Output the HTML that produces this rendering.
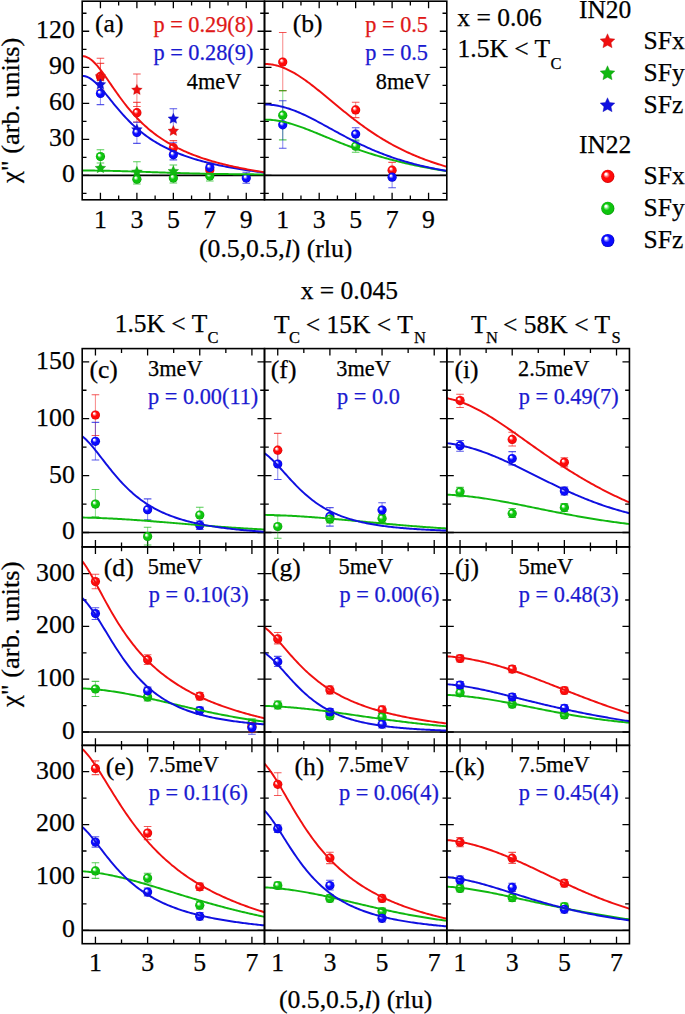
<!DOCTYPE html><html><head><meta charset="utf-8"><style>html,body{margin:0;padding:0;background:#fff;overflow:hidden;}svg{display:block;font-family:"Liberation Serif",serif;}text{stroke-width:0.25px;}</style></head><body>
<svg width="685" height="1014" viewBox="0 0 685 1014">
<defs>
<radialGradient id="gr" cx="0.5" cy="0.5" r="0.5" fx="0.33" fy="0.3"><stop offset="0" stop-color="#ffffff"/><stop offset="0.14" stop-color="#ffffff" stop-opacity="0.95"/><stop offset="0.3" stop-color="#ff8080"/><stop offset="0.5" stop-color="#ff0a0a"/><stop offset="0.85" stop-color="#ff0a0a"/><stop offset="1" stop-color="#c80000"/></radialGradient>
<radialGradient id="gg" cx="0.5" cy="0.5" r="0.5" fx="0.33" fy="0.3"><stop offset="0" stop-color="#ffffff"/><stop offset="0.14" stop-color="#ffffff" stop-opacity="0.95"/><stop offset="0.3" stop-color="#80e880"/><stop offset="0.5" stop-color="#0ec40e"/><stop offset="0.85" stop-color="#0ec40e"/><stop offset="1" stop-color="#009000"/></radialGradient>
<radialGradient id="gb" cx="0.5" cy="0.5" r="0.5" fx="0.33" fy="0.3"><stop offset="0" stop-color="#ffffff"/><stop offset="0.14" stop-color="#ffffff" stop-opacity="0.95"/><stop offset="0.3" stop-color="#8080ff"/><stop offset="0.5" stop-color="#0a0aff"/><stop offset="0.85" stop-color="#0a0aff"/><stop offset="1" stop-color="#0000b8"/></radialGradient>
</defs>
<rect width="685" height="1014" fill="#fff"/>
<clipPath id="ca"><rect x="82.2" y="1.2" width="182.3" height="198.60000000000002"/></clipPath>
<clipPath id="cb"><rect x="264.5" y="1.2" width="182.3" height="198.60000000000002"/></clipPath>
<path d="M100.43,1.2v7 M100.43,199.8v-7 M136.89,1.2v7 M136.89,199.8v-7 M173.35,1.2v7 M173.35,199.8v-7 M209.81,1.2v7 M209.81,199.8v-7 M246.27,1.2v7 M246.27,199.8v-7 M118.66,1.2v4.3 M118.66,199.8v-4.3 M155.12,1.2v4.3 M155.12,199.8v-4.3 M191.58,1.2v4.3 M191.58,199.8v-4.3 M228.04,1.2v4.3 M228.04,199.8v-4.3 M82.2,175.35h7 M264.5,175.35h-7 M82.2,139.33h7 M264.5,139.33h-7 M82.2,103.31h7 M264.5,103.31h-7 M82.2,67.29h7 M264.5,67.29h-7 M82.2,31.27h7 M264.5,31.27h-7 M82.2,193.36h4.3 M264.5,193.36h-4.3 M82.2,157.34h4.3 M264.5,157.34h-4.3 M82.2,121.32h4.3 M264.5,121.32h-4.3 M82.2,85.3h4.3 M264.5,85.3h-4.3 M82.2,49.28h4.3 M264.5,49.28h-4.3 M82.2,13.26h4.3 M264.5,13.26h-4.3" stroke="#000" stroke-width="1.3" fill="none"/>
<line x1="82.2" y1="175.35" x2="264.5" y2="175.35" stroke="#000" stroke-width="1.7"/>
<path d="M282.73,1.2v7 M282.73,199.8v-7 M319.19,1.2v7 M319.19,199.8v-7 M355.65,1.2v7 M355.65,199.8v-7 M392.11,1.2v7 M392.11,199.8v-7 M428.57,1.2v7 M428.57,199.8v-7 M300.96,1.2v4.3 M300.96,199.8v-4.3 M337.42,1.2v4.3 M337.42,199.8v-4.3 M373.88,1.2v4.3 M373.88,199.8v-4.3 M410.34,1.2v4.3 M410.34,199.8v-4.3 M264.5,175.35h7 M446.8,175.35h-7 M264.5,139.33h7 M446.8,139.33h-7 M264.5,103.31h7 M446.8,103.31h-7 M264.5,67.29h7 M446.8,67.29h-7 M264.5,31.27h7 M446.8,31.27h-7 M264.5,193.36h4.3 M446.8,193.36h-4.3 M264.5,157.34h4.3 M446.8,157.34h-4.3 M264.5,121.32h4.3 M446.8,121.32h-4.3 M264.5,85.3h4.3 M446.8,85.3h-4.3 M264.5,49.28h4.3 M446.8,49.28h-4.3 M264.5,13.26h4.3 M446.8,13.26h-4.3" stroke="#000" stroke-width="1.3" fill="none"/>
<line x1="264.5" y1="175.35" x2="446.8" y2="175.35" stroke="#000" stroke-width="1.7"/>
<path d="M100.43,58.3V80" stroke="#f01010" stroke-opacity="0.45" stroke-width="1.1" fill="none"/>
<path d="M96.63,58.3h7.6 M96.63,80h7.6" stroke="#f01010" stroke-opacity="0.7" stroke-width="1.1" fill="none"/>
<path d="M100.43,63.4V90" stroke="#f01010" stroke-opacity="0.45" stroke-width="1.1" fill="none"/>
<path d="M96.63,63.4h7.6 M96.63,90h7.6" stroke="#f01010" stroke-opacity="0.7" stroke-width="1.1" fill="none"/>
<path d="M100.43,84V104.6" stroke="#1010e0" stroke-opacity="0.45" stroke-width="1.1" fill="none"/>
<path d="M96.63,84h7.6 M96.63,104.6h7.6" stroke="#1010e0" stroke-opacity="0.7" stroke-width="1.1" fill="none"/>
<path d="M100.43,149.7V163" stroke="#10b810" stroke-opacity="0.45" stroke-width="1.1" fill="none"/>
<path d="M96.63,149.7h7.6 M96.63,163h7.6" stroke="#10b810" stroke-opacity="0.7" stroke-width="1.1" fill="none"/>
<path d="M136.89,74V106.5" stroke="#f01010" stroke-opacity="0.45" stroke-width="1.1" fill="none"/>
<path d="M133.09,74h7.6 M133.09,106.5h7.6" stroke="#f01010" stroke-opacity="0.7" stroke-width="1.1" fill="none"/>
<path d="M136.89,102.4V122" stroke="#f01010" stroke-opacity="0.45" stroke-width="1.1" fill="none"/>
<path d="M133.09,102.4h7.6 M133.09,122h7.6" stroke="#f01010" stroke-opacity="0.7" stroke-width="1.1" fill="none"/>
<path d="M136.89,122.3V143.4" stroke="#1010e0" stroke-opacity="0.45" stroke-width="1.1" fill="none"/>
<path d="M133.09,122.3h7.6 M133.09,143.4h7.6" stroke="#1010e0" stroke-opacity="0.7" stroke-width="1.1" fill="none"/>
<path d="M136.89,161.7V184" stroke="#10b810" stroke-opacity="0.45" stroke-width="1.1" fill="none"/>
<path d="M133.09,161.7h7.6 M133.09,184h7.6" stroke="#10b810" stroke-opacity="0.7" stroke-width="1.1" fill="none"/>
<path d="M173.35,108.7V131" stroke="#1010e0" stroke-opacity="0.45" stroke-width="1.1" fill="none"/>
<path d="M169.55,108.7h7.6 M169.55,131h7.6" stroke="#1010e0" stroke-opacity="0.7" stroke-width="1.1" fill="none"/>
<path d="M173.35,140.6V152" stroke="#f01010" stroke-opacity="0.45" stroke-width="1.1" fill="none"/>
<path d="M169.55,140.6h7.6 M169.55,152h7.6" stroke="#f01010" stroke-opacity="0.7" stroke-width="1.1" fill="none"/>
<path d="M173.35,142.8V159.9" stroke="#1010e0" stroke-opacity="0.45" stroke-width="1.1" fill="none"/>
<path d="M169.55,142.8h7.6 M169.55,159.9h7.6" stroke="#1010e0" stroke-opacity="0.7" stroke-width="1.1" fill="none"/>
<path d="M173.35,165V183" stroke="#10b810" stroke-opacity="0.45" stroke-width="1.1" fill="none"/>
<path d="M169.55,165h7.6 M169.55,183h7.6" stroke="#10b810" stroke-opacity="0.7" stroke-width="1.1" fill="none"/>
<path d="M209.81,163V181" stroke="#10b810" stroke-opacity="0.45" stroke-width="1.1" fill="none"/>
<path d="M206.01,163h7.6 M206.01,181h7.6" stroke="#10b810" stroke-opacity="0.7" stroke-width="1.1" fill="none"/>
<path d="M209.81,163V176" stroke="#f01010" stroke-opacity="0.45" stroke-width="1.1" fill="none"/>
<path d="M206.01,163h7.6 M206.01,176h7.6" stroke="#f01010" stroke-opacity="0.7" stroke-width="1.1" fill="none"/>
<path d="M246.27,172.3V183.2" stroke="#1010e0" stroke-opacity="0.45" stroke-width="1.1" fill="none"/>
<path d="M242.47,172.3h7.6 M242.47,183.2h7.6" stroke="#1010e0" stroke-opacity="0.7" stroke-width="1.1" fill="none"/>
<circle cx="100.43" cy="156.6" r="4.6" fill="url(#gg)"/>
<polygon points="100.43,162.6 102.01,166.03 105.76,166.47 102.99,169.03 103.72,172.73 100.43,170.89 97.14,172.73 97.87,169.03 95.1,166.47 98.85,166.03" fill="#10b810" stroke="#008000" stroke-width="0.5" stroke-opacity="0.6"/>
<circle cx="100.43" cy="76.4" r="4.6" fill="url(#gr)"/>
<polygon points="100.43,71 102.01,74.43 105.76,74.87 102.99,77.43 103.72,81.13 100.43,79.29 97.14,81.13 97.87,77.43 95.1,74.87 98.85,74.43" fill="#f01010" stroke="#b00000" stroke-width="0.5" stroke-opacity="0.6"/>
<circle cx="100.43" cy="93.5" r="4.6" fill="url(#gb)"/>
<polygon points="100.43,78.9 102.01,82.33 105.76,82.77 102.99,85.33 103.72,89.03 100.43,87.19 97.14,89.03 97.87,85.33 95.1,82.77 98.85,82.33" fill="#1010e0" stroke="#0000a0" stroke-width="0.5" stroke-opacity="0.6"/>
<polygon points="136.89,84.4 138.47,87.83 142.22,88.27 139.45,90.83 140.18,94.53 136.89,92.69 133.6,94.53 134.33,90.83 131.56,88.27 135.31,87.83" fill="#f01010" stroke="#b00000" stroke-width="0.5" stroke-opacity="0.6"/>
<circle cx="136.89" cy="112.7" r="4.6" fill="url(#gr)"/>
<polygon points="136.89,124 138.47,127.43 142.22,127.87 139.45,130.43 140.18,134.13 136.89,132.29 133.6,134.13 134.33,130.43 131.56,127.87 135.31,127.43" fill="#1010e0" stroke="#0000a0" stroke-width="0.5" stroke-opacity="0.6"/>
<circle cx="136.89" cy="132.5" r="4.6" fill="url(#gb)"/>
<circle cx="136.89" cy="179.2" r="4.6" fill="url(#gg)"/>
<polygon points="136.89,166.3 138.47,169.73 142.22,170.17 139.45,172.73 140.18,176.43 136.89,174.59 133.6,176.43 134.33,172.73 131.56,170.17 135.31,169.73" fill="#10b810" stroke="#008000" stroke-width="0.5" stroke-opacity="0.6"/>
<polygon points="173.35,113.2 174.93,116.63 178.68,117.07 175.91,119.63 176.64,123.33 173.35,121.49 170.06,123.33 170.79,119.63 168.02,117.07 171.77,116.63" fill="#1010e0" stroke="#0000a0" stroke-width="0.5" stroke-opacity="0.6"/>
<polygon points="173.35,125.4 174.93,128.83 178.68,129.27 175.91,131.83 176.64,135.53 173.35,133.69 170.06,135.53 170.79,131.83 168.02,129.27 171.77,128.83" fill="#f01010" stroke="#b00000" stroke-width="0.5" stroke-opacity="0.6"/>
<circle cx="173.35" cy="147.7" r="4.6" fill="url(#gr)"/>
<circle cx="173.35" cy="154.7" r="4.6" fill="url(#gb)"/>
<circle cx="173.35" cy="177.9" r="4.6" fill="url(#gg)"/>
<polygon points="173.35,165.7 174.93,169.13 178.68,169.57 175.91,172.13 176.64,175.83 173.35,173.99 170.06,175.83 170.79,172.13 168.02,169.57 171.77,169.13" fill="#10b810" stroke="#008000" stroke-width="0.5" stroke-opacity="0.6"/>
<circle cx="209.81" cy="176" r="4.6" fill="url(#gg)"/>
<circle cx="209.81" cy="170" r="4.6" fill="url(#gr)"/>
<circle cx="209.81" cy="167.5" r="4.6" fill="url(#gb)"/>
<circle cx="246.27" cy="178.1" r="4.6" fill="url(#gb)"/>
<path d="M282.73,32.5V90.6" stroke="#f01010" stroke-opacity="0.45" stroke-width="1.1" fill="none"/>
<path d="M278.93,32.5h7.6 M278.93,90.6h7.6" stroke="#f01010" stroke-opacity="0.7" stroke-width="1.1" fill="none"/>
<path d="M282.73,90.6V139.9" stroke="#10b810" stroke-opacity="0.45" stroke-width="1.1" fill="none"/>
<path d="M278.93,90.6h7.6 M278.93,139.9h7.6" stroke="#10b810" stroke-opacity="0.7" stroke-width="1.1" fill="none"/>
<path d="M282.73,100.7V148.3" stroke="#1010e0" stroke-opacity="0.45" stroke-width="1.1" fill="none"/>
<path d="M278.93,100.7h7.6 M278.93,148.3h7.6" stroke="#1010e0" stroke-opacity="0.7" stroke-width="1.1" fill="none"/>
<path d="M355.65,102.3V117.6" stroke="#f01010" stroke-opacity="0.45" stroke-width="1.1" fill="none"/>
<path d="M351.85,102.3h7.6 M351.85,117.6h7.6" stroke="#f01010" stroke-opacity="0.7" stroke-width="1.1" fill="none"/>
<path d="M355.65,127.8V141" stroke="#1010e0" stroke-opacity="0.45" stroke-width="1.1" fill="none"/>
<path d="M351.85,127.8h7.6 M351.85,141h7.6" stroke="#1010e0" stroke-opacity="0.7" stroke-width="1.1" fill="none"/>
<path d="M355.65,140V152.2" stroke="#10b810" stroke-opacity="0.45" stroke-width="1.1" fill="none"/>
<path d="M351.85,140h7.6 M351.85,152.2h7.6" stroke="#10b810" stroke-opacity="0.7" stroke-width="1.1" fill="none"/>
<path d="M392.11,162.4V177" stroke="#f01010" stroke-opacity="0.45" stroke-width="1.1" fill="none"/>
<path d="M388.31,162.4h7.6 M388.31,177h7.6" stroke="#f01010" stroke-opacity="0.7" stroke-width="1.1" fill="none"/>
<path d="M392.11,170V187.7" stroke="#1010e0" stroke-opacity="0.45" stroke-width="1.1" fill="none"/>
<path d="M388.31,170h7.6 M388.31,187.7h7.6" stroke="#1010e0" stroke-opacity="0.7" stroke-width="1.1" fill="none"/>
<circle cx="282.73" cy="62" r="4.6" fill="url(#gr)"/>
<circle cx="282.73" cy="115.2" r="4.6" fill="url(#gg)"/>
<circle cx="282.73" cy="124.8" r="4.6" fill="url(#gb)"/>
<circle cx="355.65" cy="109.9" r="4.6" fill="url(#gr)"/>
<circle cx="355.65" cy="134.1" r="4.6" fill="url(#gb)"/>
<circle cx="355.65" cy="146.2" r="4.6" fill="url(#gg)"/>
<circle cx="392.11" cy="170.2" r="4.6" fill="url(#gr)"/>
<circle cx="392.11" cy="177.2" r="4.6" fill="url(#gb)"/>
<path d="M82.2,170.52 L83.7,170.52 L85.2,170.52 L86.7,170.53 L88.2,170.54 L89.7,170.54 L91.2,170.56 L92.7,170.57 L94.2,170.58 L95.7,170.6 L97.2,170.62 L98.7,170.64 L100.2,170.66 L101.7,170.68 L103.2,170.71 L104.7,170.73 L106.2,170.76 L107.7,170.79 L109.2,170.82 L110.7,170.86 L112.2,170.89 L113.7,170.93 L115.2,170.96 L116.7,171 L118.2,171.04 L119.7,171.08 L121.2,171.12 L122.7,171.17 L124.2,171.21 L125.7,171.26 L127.2,171.3 L128.7,171.35 L130.2,171.4 L131.7,171.45 L133.2,171.49 L134.7,171.54 L136.2,171.59 L137.7,171.64 L139.2,171.7 L140.7,171.75 L142.2,171.8 L143.7,171.85 L145.2,171.9 L146.7,171.96 L148.2,172.01 L149.7,172.06 L151.2,172.11 L152.7,172.17 L154.2,172.22 L155.7,172.27 L157.2,172.32 L158.7,172.37 L160.2,172.43 L161.7,172.48 L163.2,172.53 L164.7,172.58 L166.2,172.63 L167.7,172.68 L169.2,172.73 L170.7,172.78 L172.2,172.82 L173.7,172.87 L175.2,172.92 L176.7,172.96 L178.2,173.01 L179.7,173.06 L181.2,173.1 L182.7,173.14 L184.2,173.19 L185.7,173.23 L187.2,173.27 L188.7,173.31 L190.2,173.35 L191.7,173.39 L193.2,173.43 L194.7,173.46 L196.2,173.5 L197.7,173.53 L199.2,173.57 L200.7,173.6 L202.2,173.64 L203.7,173.67 L205.2,173.7 L206.7,173.73 L208.2,173.76 L209.7,173.79 L211.2,173.82 L212.7,173.85 L214.2,173.87 L215.7,173.9 L217.2,173.93 L218.7,173.95 L220.2,173.97 L221.7,174 L223.2,174.02 L224.7,174.04 L226.2,174.06 L227.7,174.08 L229.2,174.1 L230.7,174.12 L232.2,174.14 L233.7,174.16 L235.2,174.18 L236.7,174.19 L238.2,174.21 L239.7,174.23 L241.2,174.24 L242.7,174.25 L244.2,174.27 L245.7,174.28 L247.2,174.3 L248.7,174.31 L250.2,174.32 L251.7,174.33 L253.2,174.34 L254.7,174.35 L256.2,174.36 L257.7,174.37 L259.2,174.38 L260.7,174.39 L262.2,174.4 L263.7,174.41 L264.5,174.41" stroke="#10b810" stroke-width="1.95" fill="none" stroke-linejoin="round" clip-path="url(#ca)"/>
<path d="M82.2,75.88 L83.7,75.97 L85.2,76.25 L86.7,76.7 L88.2,77.33 L89.7,78.13 L91.2,79.09 L92.7,80.19 L94.2,81.42 L95.7,82.77 L97.2,84.24 L98.7,85.79 L100.2,87.42 L101.7,89.12 L103.2,90.88 L104.7,92.67 L106.2,94.5 L107.7,96.35 L109.2,98.21 L110.7,100.07 L112.2,101.92 L113.7,103.77 L115.2,105.6 L116.7,107.41 L118.2,109.19 L119.7,110.94 L121.2,112.66 L122.7,114.35 L124.2,116 L125.7,117.61 L127.2,119.19 L128.7,120.72 L130.2,122.22 L131.7,123.68 L133.2,125.1 L134.7,126.49 L136.2,127.83 L137.7,129.14 L139.2,130.41 L140.7,131.64 L142.2,132.84 L143.7,134 L145.2,135.13 L146.7,136.23 L148.2,137.3 L149.7,138.33 L151.2,139.34 L152.7,140.31 L154.2,141.26 L155.7,142.18 L157.2,143.08 L158.7,143.95 L160.2,144.79 L161.7,145.62 L163.2,146.41 L164.7,147.19 L166.2,147.95 L167.7,148.68 L169.2,149.39 L170.7,150.09 L172.2,150.77 L173.7,151.42 L175.2,152.07 L176.7,152.69 L178.2,153.3 L179.7,153.89 L181.2,154.47 L182.7,155.03 L184.2,155.58 L185.7,156.11 L187.2,156.64 L188.7,157.14 L190.2,157.64 L191.7,158.12 L193.2,158.6 L194.7,159.06 L196.2,159.51 L197.7,159.95 L199.2,160.38 L200.7,160.8 L202.2,161.21 L203.7,161.61 L205.2,162.01 L206.7,162.39 L208.2,162.76 L209.7,163.13 L211.2,163.49 L212.7,163.84 L214.2,164.19 L215.7,164.52 L217.2,164.85 L218.7,165.18 L220.2,165.49 L221.7,165.8 L223.2,166.11 L224.7,166.4 L226.2,166.69 L227.7,166.98 L229.2,167.26 L230.7,167.54 L232.2,167.8 L233.7,168.07 L235.2,168.33 L236.7,168.58 L238.2,168.83 L239.7,169.08 L241.2,169.32 L242.7,169.55 L244.2,169.79 L245.7,170.01 L247.2,170.24 L248.7,170.46 L250.2,170.67 L251.7,170.89 L253.2,171.09 L254.7,171.3 L256.2,171.5 L257.7,171.7 L259.2,171.89 L260.7,172.08 L262.2,172.27 L263.7,172.46 L264.5,172.55" stroke="#1010e0" stroke-width="1.95" fill="none" stroke-linejoin="round" clip-path="url(#ca)"/>
<path d="M82.2,56.12 L83.7,56.22 L85.2,56.54 L86.7,57.06 L88.2,57.78 L89.7,58.7 L91.2,59.79 L92.7,61.06 L94.2,62.48 L95.7,64.04 L97.2,65.72 L98.7,67.52 L100.2,69.41 L101.7,71.38 L103.2,73.42 L104.7,75.51 L106.2,77.64 L107.7,79.8 L109.2,81.97 L110.7,84.15 L112.2,86.33 L113.7,88.51 L115.2,90.66 L116.7,92.8 L118.2,94.91 L119.7,96.98 L121.2,99.03 L122.7,101.03 L124.2,103 L125.7,104.92 L127.2,106.81 L128.7,108.65 L130.2,110.44 L131.7,112.2 L133.2,113.9 L134.7,115.57 L136.2,117.19 L137.7,118.76 L139.2,120.29 L140.7,121.79 L142.2,123.24 L143.7,124.65 L145.2,126.02 L146.7,127.35 L148.2,128.65 L149.7,129.91 L151.2,131.13 L152.7,132.32 L154.2,133.48 L155.7,134.61 L157.2,135.7 L158.7,136.76 L160.2,137.8 L161.7,138.81 L163.2,139.78 L164.7,140.74 L166.2,141.66 L167.7,142.57 L169.2,143.44 L170.7,144.3 L172.2,145.13 L173.7,145.94 L175.2,146.73 L176.7,147.5 L178.2,148.25 L179.7,148.98 L181.2,149.7 L182.7,150.39 L184.2,151.07 L185.7,151.73 L187.2,152.38 L188.7,153.01 L190.2,153.62 L191.7,154.22 L193.2,154.81 L194.7,155.38 L196.2,155.94 L197.7,156.49 L199.2,157.02 L200.7,157.55 L202.2,158.06 L203.7,158.56 L205.2,159.04 L206.7,159.52 L208.2,159.99 L209.7,160.45 L211.2,160.9 L212.7,161.33 L214.2,161.76 L215.7,162.18 L217.2,162.59 L218.7,163 L220.2,163.39 L221.7,163.78 L223.2,164.16 L224.7,164.53 L226.2,164.9 L227.7,165.25 L229.2,165.6 L230.7,165.95 L232.2,166.28 L233.7,166.62 L235.2,166.94 L236.7,167.26 L238.2,167.57 L239.7,167.88 L241.2,168.18 L242.7,168.48 L244.2,168.77 L245.7,169.05 L247.2,169.34 L248.7,169.61 L250.2,169.88 L251.7,170.15 L253.2,170.41 L254.7,170.67 L256.2,170.92 L257.7,171.17 L259.2,171.41 L260.7,171.66 L262.2,171.89 L263.7,172.13 L264.5,172.25" stroke="#f01010" stroke-width="1.95" fill="none" stroke-linejoin="round" clip-path="url(#ca)"/>
<path d="M264.5,119.61 L266,119.62 L267.5,119.66 L269,119.73 L270.5,119.83 L272,119.96 L273.5,120.12 L275,120.3 L276.5,120.51 L278,120.74 L279.5,121 L281,121.28 L282.5,121.59 L284,121.92 L285.5,122.28 L287,122.66 L288.5,123.05 L290,123.47 L291.5,123.9 L293,124.36 L294.5,124.83 L296,125.31 L297.5,125.82 L299,126.33 L300.5,126.86 L302,127.4 L303.5,127.95 L305,128.51 L306.5,129.09 L308,129.67 L309.5,130.25 L311,130.85 L312.5,131.45 L314,132.05 L315.5,132.66 L317,133.27 L318.5,133.89 L320,134.51 L321.5,135.13 L323,135.75 L324.5,136.37 L326,136.99 L327.5,137.61 L329,138.22 L330.5,138.84 L332,139.45 L333.5,140.07 L335,140.67 L336.5,141.28 L338,141.88 L339.5,142.48 L341,143.07 L342.5,143.66 L344,144.24 L345.5,144.82 L347,145.4 L348.5,145.97 L350,146.53 L351.5,147.09 L353,147.64 L354.5,148.19 L356,148.73 L357.5,149.26 L359,149.79 L360.5,150.32 L362,150.83 L363.5,151.34 L365,151.85 L366.5,152.34 L368,152.84 L369.5,153.32 L371,153.8 L372.5,154.27 L374,154.74 L375.5,155.2 L377,155.66 L378.5,156.1 L380,156.55 L381.5,156.98 L383,157.41 L384.5,157.84 L386,158.26 L387.5,158.67 L389,159.08 L390.5,159.48 L392,159.88 L393.5,160.27 L395,160.65 L396.5,161.03 L398,161.41 L399.5,161.77 L401,162.14 L402.5,162.5 L404,162.85 L405.5,163.2 L407,163.54 L408.5,163.88 L410,164.22 L411.5,164.55 L413,164.87 L414.5,165.19 L416,165.51 L417.5,165.82 L419,166.12 L420.5,166.43 L422,166.72 L423.5,167.02 L425,167.31 L426.5,167.59 L428,167.88 L429.5,168.15 L431,168.43 L432.5,168.7 L434,168.96 L435.5,169.23 L437,169.49 L438.5,169.74 L440,169.99 L441.5,170.24 L443,170.49 L444.5,170.73 L446,170.97 L446.8,171.1" stroke="#10b810" stroke-width="1.95" fill="none" stroke-linejoin="round" clip-path="url(#cb)"/>
<path d="M264.5,104.5 L266,104.52 L267.5,104.57 L269,104.65 L270.5,104.77 L272,104.91 L273.5,105.09 L275,105.3 L276.5,105.54 L278,105.82 L279.5,106.12 L281,106.45 L282.5,106.81 L284,107.2 L285.5,107.62 L287,108.07 L288.5,108.54 L290,109.03 L291.5,109.56 L293,110.1 L294.5,110.67 L296,111.26 L297.5,111.87 L299,112.5 L300.5,113.15 L302,113.82 L303.5,114.5 L305,115.2 L306.5,115.92 L308,116.65 L309.5,117.39 L311,118.15 L312.5,118.91 L314,119.69 L315.5,120.47 L317,121.26 L318.5,122.06 L320,122.87 L321.5,123.68 L323,124.49 L324.5,125.31 L326,126.13 L327.5,126.96 L329,127.78 L330.5,128.61 L332,129.43 L333.5,130.26 L335,131.08 L336.5,131.9 L338,132.72 L339.5,133.53 L341,134.34 L342.5,135.15 L344,135.95 L345.5,136.74 L347,137.53 L348.5,138.32 L350,139.09 L351.5,139.86 L353,140.63 L354.5,141.38 L356,142.13 L357.5,142.87 L359,143.6 L360.5,144.32 L362,145.03 L363.5,145.74 L365,146.43 L366.5,147.12 L368,147.79 L369.5,148.46 L371,149.12 L372.5,149.77 L374,150.41 L375.5,151.04 L377,151.65 L378.5,152.26 L380,152.86 L381.5,153.45 L383,154.03 L384.5,154.6 L386,155.17 L387.5,155.72 L389,156.26 L390.5,156.79 L392,157.31 L393.5,157.83 L395,158.33 L396.5,158.83 L398,159.32 L399.5,159.79 L401,160.26 L402.5,160.72 L404,161.17 L405.5,161.62 L407,162.05 L408.5,162.48 L410,162.89 L411.5,163.3 L413,163.71 L414.5,164.1 L416,164.49 L417.5,164.87 L419,165.24 L420.5,165.6 L422,165.96 L423.5,166.31 L425,166.65 L426.5,166.99 L428,167.31 L429.5,167.64 L431,167.95 L432.5,168.26 L434,168.57 L435.5,168.86 L437,169.15 L438.5,169.44 L440,169.72 L441.5,169.99 L443,170.26 L444.5,170.52 L446,170.78 L446.8,170.92" stroke="#1010e0" stroke-width="1.95" fill="none" stroke-linejoin="round" clip-path="url(#cb)"/>
<path d="M264.5,63.95 L266,63.98 L267.5,64.05 L269,64.17 L270.5,64.34 L272,64.57 L273.5,64.83 L275,65.15 L276.5,65.51 L278,65.92 L279.5,66.38 L281,66.88 L282.5,67.42 L284,68.01 L285.5,68.64 L287,69.31 L288.5,70.01 L290,70.76 L291.5,71.55 L293,72.36 L294.5,73.22 L296,74.11 L297.5,75.02 L299,75.97 L300.5,76.95 L302,77.95 L303.5,78.98 L305,80.04 L306.5,81.11 L308,82.21 L309.5,83.33 L311,84.47 L312.5,85.62 L314,86.79 L315.5,87.97 L317,89.16 L318.5,90.37 L320,91.58 L321.5,92.81 L323,94.04 L324.5,95.27 L326,96.52 L327.5,97.76 L329,99.01 L330.5,100.26 L332,101.51 L333.5,102.75 L335,104 L336.5,105.25 L338,106.49 L339.5,107.72 L341,108.95 L342.5,110.18 L344,111.4 L345.5,112.61 L347,113.82 L348.5,115.01 L350,116.2 L351.5,117.37 L353,118.54 L354.5,119.7 L356,120.84 L357.5,121.98 L359,123.1 L360.5,124.21 L362,125.31 L363.5,126.4 L365,127.47 L366.5,128.53 L368,129.58 L369.5,130.61 L371,131.63 L372.5,132.64 L374,133.63 L375.5,134.61 L377,135.58 L378.5,136.53 L380,137.47 L381.5,138.39 L383,139.3 L384.5,140.2 L386,141.09 L387.5,141.96 L389,142.81 L390.5,143.65 L392,144.48 L393.5,145.3 L395,146.1 L396.5,146.89 L398,147.67 L399.5,148.43 L401,149.18 L402.5,149.92 L404,150.64 L405.5,151.36 L407,152.06 L408.5,152.75 L410,153.42 L411.5,154.09 L413,154.74 L414.5,155.38 L416,156.01 L417.5,156.63 L419,157.24 L420.5,157.84 L422,158.42 L423.5,159 L425,159.57 L426.5,160.12 L428,160.67 L429.5,161.2 L431,161.73 L432.5,162.25 L434,162.75 L435.5,163.25 L437,163.74 L438.5,164.22 L440,164.69 L441.5,165.16 L443,165.61 L444.5,166.06 L446,166.49 L446.8,166.73" stroke="#f01010" stroke-width="1.95" fill="none" stroke-linejoin="round" clip-path="url(#cb)"/>
<rect x="82.2" y="1.2" width="182.3" height="198.6" fill="none" stroke="#000" stroke-width="1.6"/>
<rect x="264.5" y="1.2" width="182.3" height="198.6" fill="none" stroke="#000" stroke-width="1.6"/>
<text x="95.05" y="32.2" font-size="25.6" text-anchor="start" fill="#000" stroke="#000">(a)</text>
<text x="153.47" y="32.4" font-size="22.3" text-anchor="start" fill="#e01818" stroke="#e01818">p = 0.29(8)</text>
<text x="153.47" y="59.7" font-size="22.3" text-anchor="start" fill="#1a1ad0" stroke="#1a1ad0">p = 0.28(9)</text>
<text x="186.75" y="89.4" font-size="22.3" text-anchor="start" fill="#000" stroke="#000">4meV</text>
<text x="292.65" y="32.2" font-size="25.6" text-anchor="start" fill="#000" stroke="#000">(b)</text>
<text x="365.27" y="32.3" font-size="22.3" text-anchor="start" fill="#e01818" stroke="#e01818">p = 0.5</text>
<text x="365.27" y="60" font-size="22.3" text-anchor="start" fill="#1a1ad0" stroke="#1a1ad0">p = 0.5</text>
<text x="375.81" y="89.2" font-size="22.3" text-anchor="start" fill="#000" stroke="#000">8meV</text>
<text x="100.43" y="227.6" font-size="25.8" text-anchor="middle" fill="#000" stroke="#000">1</text>
<text x="136.89" y="227.6" font-size="25.8" text-anchor="middle" fill="#000" stroke="#000">3</text>
<text x="173.35" y="227.6" font-size="25.8" text-anchor="middle" fill="#000" stroke="#000">5</text>
<text x="209.81" y="227.6" font-size="25.8" text-anchor="middle" fill="#000" stroke="#000">7</text>
<text x="246.27" y="227.6" font-size="25.8" text-anchor="middle" fill="#000" stroke="#000">9</text>
<text x="282.73" y="227.6" font-size="25.8" text-anchor="middle" fill="#000" stroke="#000">1</text>
<text x="319.19" y="227.6" font-size="25.8" text-anchor="middle" fill="#000" stroke="#000">3</text>
<text x="355.65" y="227.6" font-size="25.8" text-anchor="middle" fill="#000" stroke="#000">5</text>
<text x="392.11" y="227.6" font-size="25.8" text-anchor="middle" fill="#000" stroke="#000">7</text>
<text x="428.57" y="227.6" font-size="25.8" text-anchor="middle" fill="#000" stroke="#000">9</text>
<text x="74.8" y="182.25" font-size="25.8" text-anchor="end" fill="#000" stroke="#000">0</text>
<text x="74.8" y="146.23" font-size="25.8" text-anchor="end" fill="#000" stroke="#000">30</text>
<text x="74.8" y="110.21" font-size="25.8" text-anchor="end" fill="#000" stroke="#000">60</text>
<text x="74.8" y="74.19" font-size="25.8" text-anchor="end" fill="#000" stroke="#000">90</text>
<text x="74.8" y="38.17" font-size="25.8" text-anchor="end" fill="#000" stroke="#000">120</text>
<text x="199.05" y="256.9" font-size="25.66" stroke="#000">(0.5,0.5,<tspan font-style="italic">l</tspan>) (rlu)</text>
<text transform="translate(19.25,110.3) rotate(-90) scale(1,0.94)" font-size="26.5" text-anchor="middle" stroke="#000">χ" (arb. units)</text>
<text x="457.35" y="25.8" font-size="25.5" text-anchor="start" fill="#000" stroke="#000">x = 0.06</text>
<text x="457.6" y="57.2" font-size="25.5" text-anchor="start" fill="#000" stroke="#000">1.5K &lt; T</text>
<text x="550.44" y="68.6" font-size="16.5" text-anchor="start" fill="#000" stroke="#000">C</text>
<text x="578.91" y="17.6" font-size="25.5" text-anchor="start" fill="#000" stroke="#000">IN20</text>
<text x="578.91" y="152.5" font-size="25.5" text-anchor="start" fill="#000" stroke="#000">IN22</text>
<polygon points="607.5,33.7 609.7,38.47 614.92,39.09 611.06,42.66 612.08,47.81 607.5,45.24 602.92,47.81 603.94,42.66 600.08,39.09 605.3,38.47" fill="#f01010" stroke="#b00000" stroke-width="0.5" stroke-opacity="0.6"/>
<circle cx="607.8" cy="176.3" r="6.6" fill="url(#gr)"/>
<text x="643.54" y="49.3" font-size="25.5" text-anchor="start" fill="#000" stroke="#000">SFx</text>
<text x="643.54" y="183.9" font-size="25.5" text-anchor="start" fill="#000" stroke="#000">SFx</text>
<polygon points="607.5,65.7 609.7,70.47 614.92,71.09 611.06,74.66 612.08,79.81 607.5,77.24 602.92,79.81 603.94,74.66 600.08,71.09 605.3,70.47" fill="#10b810" stroke="#008000" stroke-width="0.5" stroke-opacity="0.6"/>
<circle cx="607.8" cy="208.4" r="6.6" fill="url(#gg)"/>
<text x="643.54" y="81.2" font-size="25.5" text-anchor="start" fill="#000" stroke="#000">SFy</text>
<text x="643.54" y="215.8" font-size="25.5" text-anchor="start" fill="#000" stroke="#000">SFy</text>
<polygon points="607.5,97.7 609.7,102.47 614.92,103.09 611.06,106.66 612.08,111.81 607.5,109.24 602.92,111.81 603.94,106.66 600.08,103.09 605.3,102.47" fill="#1010e0" stroke="#0000a0" stroke-width="0.5" stroke-opacity="0.6"/>
<circle cx="607.8" cy="240.5" r="6.6" fill="url(#gb)"/>
<text x="643.54" y="113.1" font-size="25.5" text-anchor="start" fill="#000" stroke="#000">SFz</text>
<text x="643.54" y="247.7" font-size="25.5" text-anchor="start" fill="#000" stroke="#000">SFz</text>
<clipPath id="c00"><rect x="82.2" y="348.6" width="182.3" height="198.3"/></clipPath>
<clipPath id="c01"><rect x="82.2" y="546.9" width="182.3" height="198.45"/></clipPath>
<clipPath id="c02"><rect x="82.2" y="745.35" width="182.3" height="198.35"/></clipPath>
<clipPath id="c10"><rect x="264.5" y="348.6" width="182.3" height="198.3"/></clipPath>
<clipPath id="c11"><rect x="264.5" y="546.9" width="182.3" height="198.45"/></clipPath>
<clipPath id="c12"><rect x="264.5" y="745.35" width="182.3" height="198.35"/></clipPath>
<clipPath id="c20"><rect x="446.8" y="348.6" width="182.65" height="198.3"/></clipPath>
<clipPath id="c21"><rect x="446.8" y="546.9" width="182.65" height="198.45"/></clipPath>
<clipPath id="c22"><rect x="446.8" y="745.35" width="182.65" height="198.35"/></clipPath>
<path d="M95.44,348.6v7 M95.44,546.9v-7 M147.6,348.6v7 M147.6,546.9v-7 M199.76,348.6v7 M199.76,546.9v-7 M251.92,348.6v7 M251.92,546.9v-7 M121.52,348.6v4.3 M121.52,546.9v-4.3 M173.68,348.6v4.3 M173.68,546.9v-4.3 M225.84,348.6v4.3 M225.84,546.9v-4.3 M82.2,532.5h7 M264.5,532.5h-7 M82.2,475.6h7 M264.5,475.6h-7 M82.2,418.7h7 M264.5,418.7h-7 M82.2,361.8h7 M264.5,361.8h-7 M82.2,504.05h4.3 M264.5,504.05h-4.3 M82.2,447.15h4.3 M264.5,447.15h-4.3 M82.2,390.25h4.3 M264.5,390.25h-4.3" stroke="#000" stroke-width="1.3" fill="none"/>
<line x1="82.2" y1="532.5" x2="264.5" y2="532.5" stroke="#000" stroke-width="1.7"/>
<path d="M95.44,546.9v7 M95.44,745.35v-7 M147.6,546.9v7 M147.6,745.35v-7 M199.76,546.9v7 M199.76,745.35v-7 M251.92,546.9v7 M251.92,745.35v-7 M121.52,546.9v4.3 M121.52,745.35v-4.3 M173.68,546.9v4.3 M173.68,745.35v-4.3 M225.84,546.9v4.3 M225.84,745.35v-4.3 M82.2,732h7 M264.5,732h-7 M82.2,679.2h7 M264.5,679.2h-7 M82.2,626.4h7 M264.5,626.4h-7 M82.2,573.6h7 M264.5,573.6h-7 M82.2,705.6h4.3 M264.5,705.6h-4.3 M82.2,652.8h4.3 M264.5,652.8h-4.3 M82.2,600h4.3 M264.5,600h-4.3" stroke="#000" stroke-width="1.3" fill="none"/>
<line x1="82.2" y1="732" x2="264.5" y2="732" stroke="#000" stroke-width="1.7"/>
<path d="M95.44,745.35v7 M95.44,943.7v-7 M147.6,745.35v7 M147.6,943.7v-7 M199.76,745.35v7 M199.76,943.7v-7 M251.92,745.35v7 M251.92,943.7v-7 M121.52,745.35v4.3 M121.52,943.7v-4.3 M173.68,745.35v4.3 M173.68,943.7v-4.3 M225.84,745.35v4.3 M225.84,943.7v-4.3 M82.2,930.35h7 M264.5,930.35h-7 M82.2,877.45h7 M264.5,877.45h-7 M82.2,824.55h7 M264.5,824.55h-7 M82.2,771.65h7 M264.5,771.65h-7 M82.2,903.9h4.3 M264.5,903.9h-4.3 M82.2,851h4.3 M264.5,851h-4.3 M82.2,798.1h4.3 M264.5,798.1h-4.3" stroke="#000" stroke-width="1.3" fill="none"/>
<line x1="82.2" y1="930.35" x2="264.5" y2="930.35" stroke="#000" stroke-width="1.7"/>
<path d="M277.74,348.6v7 M277.74,546.9v-7 M329.9,348.6v7 M329.9,546.9v-7 M382.06,348.6v7 M382.06,546.9v-7 M434.22,348.6v7 M434.22,546.9v-7 M303.82,348.6v4.3 M303.82,546.9v-4.3 M355.98,348.6v4.3 M355.98,546.9v-4.3 M408.14,348.6v4.3 M408.14,546.9v-4.3 M264.5,532.5h7 M446.8,532.5h-7 M264.5,475.6h7 M446.8,475.6h-7 M264.5,418.7h7 M446.8,418.7h-7 M264.5,361.8h7 M446.8,361.8h-7 M264.5,504.05h4.3 M446.8,504.05h-4.3 M264.5,447.15h4.3 M446.8,447.15h-4.3 M264.5,390.25h4.3 M446.8,390.25h-4.3" stroke="#000" stroke-width="1.3" fill="none"/>
<line x1="264.5" y1="532.5" x2="446.8" y2="532.5" stroke="#000" stroke-width="1.7"/>
<path d="M277.74,546.9v7 M277.74,745.35v-7 M329.9,546.9v7 M329.9,745.35v-7 M382.06,546.9v7 M382.06,745.35v-7 M434.22,546.9v7 M434.22,745.35v-7 M303.82,546.9v4.3 M303.82,745.35v-4.3 M355.98,546.9v4.3 M355.98,745.35v-4.3 M408.14,546.9v4.3 M408.14,745.35v-4.3 M264.5,732h7 M446.8,732h-7 M264.5,679.2h7 M446.8,679.2h-7 M264.5,626.4h7 M446.8,626.4h-7 M264.5,573.6h7 M446.8,573.6h-7 M264.5,705.6h4.3 M446.8,705.6h-4.3 M264.5,652.8h4.3 M446.8,652.8h-4.3 M264.5,600h4.3 M446.8,600h-4.3" stroke="#000" stroke-width="1.3" fill="none"/>
<line x1="264.5" y1="732" x2="446.8" y2="732" stroke="#000" stroke-width="1.7"/>
<path d="M277.74,745.35v7 M277.74,943.7v-7 M329.9,745.35v7 M329.9,943.7v-7 M382.06,745.35v7 M382.06,943.7v-7 M434.22,745.35v7 M434.22,943.7v-7 M303.82,745.35v4.3 M303.82,943.7v-4.3 M355.98,745.35v4.3 M355.98,943.7v-4.3 M408.14,745.35v4.3 M408.14,943.7v-4.3 M264.5,930.35h7 M446.8,930.35h-7 M264.5,877.45h7 M446.8,877.45h-7 M264.5,824.55h7 M446.8,824.55h-7 M264.5,771.65h7 M446.8,771.65h-7 M264.5,903.9h4.3 M446.8,903.9h-4.3 M264.5,851h4.3 M446.8,851h-4.3 M264.5,798.1h4.3 M446.8,798.1h-4.3" stroke="#000" stroke-width="1.3" fill="none"/>
<line x1="264.5" y1="930.35" x2="446.8" y2="930.35" stroke="#000" stroke-width="1.7"/>
<path d="M460.04,348.6v7 M460.04,546.9v-7 M512.2,348.6v7 M512.2,546.9v-7 M564.36,348.6v7 M564.36,546.9v-7 M616.52,348.6v7 M616.52,546.9v-7 M486.12,348.6v4.3 M486.12,546.9v-4.3 M538.28,348.6v4.3 M538.28,546.9v-4.3 M590.44,348.6v4.3 M590.44,546.9v-4.3 M446.8,532.5h7 M629.45,532.5h-7 M446.8,475.6h7 M629.45,475.6h-7 M446.8,418.7h7 M629.45,418.7h-7 M446.8,361.8h7 M629.45,361.8h-7 M446.8,504.05h4.3 M629.45,504.05h-4.3 M446.8,447.15h4.3 M629.45,447.15h-4.3 M446.8,390.25h4.3 M629.45,390.25h-4.3" stroke="#000" stroke-width="1.3" fill="none"/>
<line x1="446.8" y1="532.5" x2="629.45" y2="532.5" stroke="#000" stroke-width="1.7"/>
<path d="M460.04,546.9v7 M460.04,745.35v-7 M512.2,546.9v7 M512.2,745.35v-7 M564.36,546.9v7 M564.36,745.35v-7 M616.52,546.9v7 M616.52,745.35v-7 M486.12,546.9v4.3 M486.12,745.35v-4.3 M538.28,546.9v4.3 M538.28,745.35v-4.3 M590.44,546.9v4.3 M590.44,745.35v-4.3 M446.8,732h7 M629.45,732h-7 M446.8,679.2h7 M629.45,679.2h-7 M446.8,626.4h7 M629.45,626.4h-7 M446.8,573.6h7 M629.45,573.6h-7 M446.8,705.6h4.3 M629.45,705.6h-4.3 M446.8,652.8h4.3 M629.45,652.8h-4.3 M446.8,600h4.3 M629.45,600h-4.3" stroke="#000" stroke-width="1.3" fill="none"/>
<line x1="446.8" y1="732" x2="629.45" y2="732" stroke="#000" stroke-width="1.7"/>
<path d="M460.04,745.35v7 M460.04,943.7v-7 M512.2,745.35v7 M512.2,943.7v-7 M564.36,745.35v7 M564.36,943.7v-7 M616.52,745.35v7 M616.52,943.7v-7 M486.12,745.35v4.3 M486.12,943.7v-4.3 M538.28,745.35v4.3 M538.28,943.7v-4.3 M590.44,745.35v4.3 M590.44,943.7v-4.3 M446.8,930.35h7 M629.45,930.35h-7 M446.8,877.45h7 M629.45,877.45h-7 M446.8,824.55h7 M629.45,824.55h-7 M446.8,771.65h7 M629.45,771.65h-7 M446.8,903.9h4.3 M629.45,903.9h-4.3 M446.8,851h4.3 M629.45,851h-4.3 M446.8,798.1h4.3 M629.45,798.1h-4.3" stroke="#000" stroke-width="1.3" fill="none"/>
<line x1="446.8" y1="930.35" x2="629.45" y2="930.35" stroke="#000" stroke-width="1.7"/>
<path d="M95.44,394.8V435.5" stroke="#f01010" stroke-opacity="0.45" stroke-width="1.1" fill="none"/>
<path d="M91.64,394.8h7.6 M91.64,435.5h7.6" stroke="#f01010" stroke-opacity="0.7" stroke-width="1.1" fill="none"/>
<path d="M95.44,422.4V460" stroke="#1010e0" stroke-opacity="0.45" stroke-width="1.1" fill="none"/>
<path d="M91.64,422.4h7.6 M91.64,460h7.6" stroke="#1010e0" stroke-opacity="0.7" stroke-width="1.1" fill="none"/>
<path d="M95.44,489.5V516.8" stroke="#10b810" stroke-opacity="0.45" stroke-width="1.1" fill="none"/>
<path d="M91.64,489.5h7.6 M91.64,516.8h7.6" stroke="#10b810" stroke-opacity="0.7" stroke-width="1.1" fill="none"/>
<path d="M147.6,498.9V519.9" stroke="#1010e0" stroke-opacity="0.45" stroke-width="1.1" fill="none"/>
<path d="M143.8,498.9h7.6 M143.8,519.9h7.6" stroke="#1010e0" stroke-opacity="0.7" stroke-width="1.1" fill="none"/>
<path d="M147.6,527.3V545" stroke="#10b810" stroke-opacity="0.45" stroke-width="1.1" fill="none"/>
<path d="M143.8,527.3h7.6 M143.8,545h7.6" stroke="#10b810" stroke-opacity="0.7" stroke-width="1.1" fill="none"/>
<path d="M199.76,507.3V522.5" stroke="#10b810" stroke-opacity="0.45" stroke-width="1.1" fill="none"/>
<path d="M195.96,507.3h7.6 M195.96,522.5h7.6" stroke="#10b810" stroke-opacity="0.7" stroke-width="1.1" fill="none"/>
<path d="M199.76,521V529.5" stroke="#1010e0" stroke-opacity="0.45" stroke-width="1.1" fill="none"/>
<path d="M195.96,521h7.6 M195.96,529.5h7.6" stroke="#1010e0" stroke-opacity="0.7" stroke-width="1.1" fill="none"/>
<circle cx="95.44" cy="415" r="4.6" fill="url(#gr)"/>
<circle cx="95.44" cy="441.3" r="4.6" fill="url(#gb)"/>
<circle cx="95.44" cy="504.1" r="4.6" fill="url(#gg)"/>
<circle cx="147.6" cy="509.7" r="4.6" fill="url(#gb)"/>
<circle cx="147.6" cy="536.5" r="4.6" fill="url(#gg)"/>
<circle cx="199.76" cy="515" r="4.6" fill="url(#gg)"/>
<circle cx="199.76" cy="525.2" r="4.6" fill="url(#gb)"/>
<path d="M82.2,517.57 L83.7,517.59 L85.2,517.62 L86.7,517.65 L88.2,517.69 L89.7,517.72 L91.2,517.76 L92.7,517.81 L94.2,517.85 L95.7,517.9 L97.2,517.95 L98.7,518 L100.2,518.06 L101.7,518.12 L103.2,518.18 L104.7,518.24 L106.2,518.31 L107.7,518.37 L109.2,518.44 L110.7,518.52 L112.2,518.59 L113.7,518.67 L115.2,518.75 L116.7,518.83 L118.2,518.91 L119.7,519 L121.2,519.09 L122.7,519.18 L124.2,519.27 L125.7,519.36 L127.2,519.46 L128.7,519.55 L130.2,519.65 L131.7,519.75 L133.2,519.86 L134.7,519.96 L136.2,520.06 L137.7,520.17 L139.2,520.28 L140.7,520.39 L142.2,520.5 L143.7,520.61 L145.2,520.72 L146.7,520.84 L148.2,520.95 L149.7,521.07 L151.2,521.19 L152.7,521.3 L154.2,521.42 L155.7,521.54 L157.2,521.66 L158.7,521.79 L160.2,521.91 L161.7,522.03 L163.2,522.15 L164.7,522.28 L166.2,522.4 L167.7,522.52 L169.2,522.65 L170.7,522.77 L172.2,522.9 L173.7,523.02 L175.2,523.15 L176.7,523.27 L178.2,523.4 L179.7,523.53 L181.2,523.65 L182.7,523.78 L184.2,523.9 L185.7,524.03 L187.2,524.15 L188.7,524.27 L190.2,524.4 L191.7,524.52 L193.2,524.65 L194.7,524.77 L196.2,524.89 L197.7,525.01 L199.2,525.13 L200.7,525.25 L202.2,525.37 L203.7,525.49 L205.2,525.61 L206.7,525.73 L208.2,525.85 L209.7,525.96 L211.2,526.08 L212.7,526.19 L214.2,526.31 L215.7,526.42 L217.2,526.53 L218.7,526.64 L220.2,526.75 L221.7,526.86 L223.2,526.97 L224.7,527.08 L226.2,527.18 L227.7,527.29 L229.2,527.39 L230.7,527.49 L232.2,527.6 L233.7,527.7 L235.2,527.8 L236.7,527.89 L238.2,527.99 L239.7,528.09 L241.2,528.18 L242.7,528.28 L244.2,528.37 L245.7,528.46 L247.2,528.55 L248.7,528.64 L250.2,528.72 L251.7,528.81 L253.2,528.9 L254.7,528.98 L256.2,529.06 L257.7,529.14 L259.2,529.22 L260.7,529.3 L262.2,529.38 L263.7,529.46 L264.5,529.5" stroke="#10b810" stroke-width="1.95" fill="none" stroke-linejoin="round" clip-path="url(#c00)"/>
<path d="M82.2,436.18 L83.7,437.44 L85.2,438.81 L86.7,440.27 L88.2,441.83 L89.7,443.46 L91.2,445.16 L92.7,446.92 L94.2,448.73 L95.7,450.58 L97.2,452.46 L98.7,454.37 L100.2,456.3 L101.7,458.23 L103.2,460.17 L104.7,462.11 L106.2,464.04 L107.7,465.95 L109.2,467.85 L110.7,469.72 L112.2,471.57 L113.7,473.39 L115.2,475.18 L116.7,476.93 L118.2,478.65 L119.7,480.33 L121.2,481.97 L122.7,483.58 L124.2,485.14 L125.7,486.66 L127.2,488.14 L128.7,489.58 L130.2,490.98 L131.7,492.34 L133.2,493.65 L134.7,494.93 L136.2,496.17 L137.7,497.37 L139.2,498.54 L140.7,499.66 L142.2,500.75 L143.7,501.81 L145.2,502.83 L146.7,503.82 L148.2,504.77 L149.7,505.7 L151.2,506.59 L152.7,507.46 L154.2,508.29 L155.7,509.1 L157.2,509.88 L158.7,510.64 L160.2,511.37 L161.7,512.07 L163.2,512.76 L164.7,513.42 L166.2,514.06 L167.7,514.67 L169.2,515.27 L170.7,515.85 L172.2,516.41 L173.7,516.95 L175.2,517.47 L176.7,517.98 L178.2,518.47 L179.7,518.95 L181.2,519.41 L182.7,519.85 L184.2,520.28 L185.7,520.7 L187.2,521.1 L188.7,521.5 L190.2,521.88 L191.7,522.24 L193.2,522.6 L194.7,522.95 L196.2,523.28 L197.7,523.61 L199.2,523.93 L200.7,524.23 L202.2,524.53 L203.7,524.82 L205.2,525.1 L206.7,525.37 L208.2,525.64 L209.7,525.89 L211.2,526.14 L212.7,526.38 L214.2,526.62 L215.7,526.85 L217.2,527.07 L218.7,527.29 L220.2,527.5 L221.7,527.7 L223.2,527.9 L224.7,528.09 L226.2,528.28 L227.7,528.47 L229.2,528.65 L230.7,528.82 L232.2,528.99 L233.7,529.15 L235.2,529.31 L236.7,529.47 L238.2,529.62 L239.7,529.77 L241.2,529.92 L242.7,530.06 L244.2,530.2 L245.7,530.33 L247.2,530.46 L248.7,530.59 L250.2,530.71 L251.7,530.83 L253.2,530.95 L254.7,531.07 L256.2,531.18 L257.7,531.29 L259.2,531.4 L260.7,531.5 L262.2,531.61 L263.7,531.71 L264.5,531.76" stroke="#1010e0" stroke-width="1.95" fill="none" stroke-linejoin="round" clip-path="url(#c00)"/>
<path d="M277.74,433.4V462" stroke="#f01010" stroke-opacity="0.45" stroke-width="1.1" fill="none"/>
<path d="M273.94,433.4h7.6 M273.94,462h7.6" stroke="#f01010" stroke-opacity="0.7" stroke-width="1.1" fill="none"/>
<path d="M277.74,451V479.5" stroke="#1010e0" stroke-opacity="0.45" stroke-width="1.1" fill="none"/>
<path d="M273.94,451h7.6 M273.94,479.5h7.6" stroke="#1010e0" stroke-opacity="0.7" stroke-width="1.1" fill="none"/>
<path d="M277.74,516V538.2" stroke="#10b810" stroke-opacity="0.45" stroke-width="1.1" fill="none"/>
<path d="M273.94,516h7.6 M273.94,538.2h7.6" stroke="#10b810" stroke-opacity="0.7" stroke-width="1.1" fill="none"/>
<path d="M329.9,507.6V526.1" stroke="#1010e0" stroke-opacity="0.45" stroke-width="1.1" fill="none"/>
<path d="M326.1,507.6h7.6 M326.1,526.1h7.6" stroke="#1010e0" stroke-opacity="0.7" stroke-width="1.1" fill="none"/>
<path d="M329.9,515V523" stroke="#10b810" stroke-opacity="0.45" stroke-width="1.1" fill="none"/>
<path d="M326.1,515h7.6 M326.1,523h7.6" stroke="#10b810" stroke-opacity="0.7" stroke-width="1.1" fill="none"/>
<path d="M382.06,514.5V522.5" stroke="#10b810" stroke-opacity="0.45" stroke-width="1.1" fill="none"/>
<path d="M378.26,514.5h7.6 M378.26,522.5h7.6" stroke="#10b810" stroke-opacity="0.7" stroke-width="1.1" fill="none"/>
<path d="M382.06,502.7V517" stroke="#1010e0" stroke-opacity="0.45" stroke-width="1.1" fill="none"/>
<path d="M378.26,502.7h7.6 M378.26,517h7.6" stroke="#1010e0" stroke-opacity="0.7" stroke-width="1.1" fill="none"/>
<circle cx="277.74" cy="450.2" r="4.6" fill="url(#gr)"/>
<circle cx="277.74" cy="464" r="4.6" fill="url(#gb)"/>
<circle cx="277.74" cy="526.5" r="4.6" fill="url(#gg)"/>
<circle cx="329.9" cy="516.4" r="4.6" fill="url(#gb)"/>
<circle cx="329.9" cy="519" r="4.6" fill="url(#gg)"/>
<circle cx="382.06" cy="518.4" r="4.6" fill="url(#gg)"/>
<circle cx="382.06" cy="510.1" r="4.6" fill="url(#gb)"/>
<path d="M264.5,514.87 L266,514.9 L267.5,514.93 L269,514.97 L270.5,515 L272,515.04 L273.5,515.09 L275,515.14 L276.5,515.19 L278,515.24 L279.5,515.29 L281,515.35 L282.5,515.41 L284,515.48 L285.5,515.55 L287,515.62 L288.5,515.69 L290,515.76 L291.5,515.84 L293,515.92 L294.5,516.01 L296,516.09 L297.5,516.18 L299,516.27 L300.5,516.36 L302,516.46 L303.5,516.56 L305,516.66 L306.5,516.76 L308,516.86 L309.5,516.97 L311,517.08 L312.5,517.19 L314,517.3 L315.5,517.41 L317,517.53 L318.5,517.64 L320,517.76 L321.5,517.88 L323,518.01 L324.5,518.13 L326,518.26 L327.5,518.38 L329,518.51 L330.5,518.64 L332,518.77 L333.5,518.9 L335,519.03 L336.5,519.17 L338,519.3 L339.5,519.44 L341,519.57 L342.5,519.71 L344,519.85 L345.5,519.99 L347,520.12 L348.5,520.26 L350,520.4 L351.5,520.55 L353,520.69 L354.5,520.83 L356,520.97 L357.5,521.11 L359,521.25 L360.5,521.4 L362,521.54 L363.5,521.68 L365,521.82 L366.5,521.96 L368,522.11 L369.5,522.25 L371,522.39 L372.5,522.53 L374,522.67 L375.5,522.81 L377,522.95 L378.5,523.09 L380,523.23 L381.5,523.37 L383,523.51 L384.5,523.65 L386,523.78 L387.5,523.92 L389,524.06 L390.5,524.19 L392,524.32 L393.5,524.46 L395,524.59 L396.5,524.72 L398,524.85 L399.5,524.98 L401,525.11 L402.5,525.24 L404,525.36 L405.5,525.49 L407,525.61 L408.5,525.74 L410,525.86 L411.5,525.98 L413,526.1 L414.5,526.22 L416,526.34 L417.5,526.45 L419,526.57 L420.5,526.68 L422,526.79 L423.5,526.91 L425,527.02 L426.5,527.12 L428,527.23 L429.5,527.34 L431,527.44 L432.5,527.55 L434,527.65 L435.5,527.75 L437,527.85 L438.5,527.95 L440,528.04 L441.5,528.14 L443,528.23 L444.5,528.33 L446,528.42 L446.8,528.47" stroke="#10b810" stroke-width="1.95" fill="none" stroke-linejoin="round" clip-path="url(#c10)"/>
<path d="M264.5,453.27 L266,454.36 L267.5,455.54 L269,456.81 L270.5,458.15 L272,459.55 L273.5,461.02 L275,462.54 L276.5,464.11 L278,465.71 L279.5,467.33 L281,468.98 L282.5,470.65 L284,472.32 L285.5,473.99 L287,475.66 L288.5,477.32 L290,478.97 L291.5,480.6 L293,482.2 L294.5,483.79 L296,485.35 L297.5,486.87 L299,488.37 L300.5,489.83 L302,491.26 L303.5,492.65 L305,494 L306.5,495.32 L308,496.59 L309.5,497.83 L311,499.04 L312.5,500.2 L314,501.33 L315.5,502.42 L317,503.47 L318.5,504.49 L320,505.48 L321.5,506.43 L323,507.34 L324.5,508.22 L326,509.07 L327.5,509.89 L329,510.68 L330.5,511.45 L332,512.18 L333.5,512.88 L335,513.56 L336.5,514.22 L338,514.85 L339.5,515.45 L341,516.04 L342.5,516.6 L344,517.14 L345.5,517.66 L347,518.16 L348.5,518.64 L350,519.1 L351.5,519.55 L353,519.98 L354.5,520.39 L356,520.79 L357.5,521.18 L359,521.54 L360.5,521.9 L362,522.24 L363.5,522.57 L365,522.89 L366.5,523.2 L368,523.49 L369.5,523.78 L371,524.05 L372.5,524.32 L374,524.57 L375.5,524.82 L377,525.06 L378.5,525.29 L380,525.51 L381.5,525.72 L383,525.93 L384.5,526.13 L386,526.32 L387.5,526.51 L389,526.69 L390.5,526.86 L392,527.03 L393.5,527.19 L395,527.35 L396.5,527.5 L398,527.65 L399.5,527.79 L401,527.93 L402.5,528.06 L404,528.19 L405.5,528.32 L407,528.44 L408.5,528.55 L410,528.67 L411.5,528.78 L413,528.88 L414.5,528.99 L416,529.09 L417.5,529.18 L419,529.28 L420.5,529.37 L422,529.46 L423.5,529.54 L425,529.63 L426.5,529.71 L428,529.79 L429.5,529.86 L431,529.94 L432.5,530.01 L434,530.08 L435.5,530.15 L437,530.21 L438.5,530.28 L440,530.34 L441.5,530.4 L443,530.46 L444.5,530.52 L446,530.57 L446.8,530.6" stroke="#1010e0" stroke-width="1.95" fill="none" stroke-linejoin="round" clip-path="url(#c10)"/>
<path d="M460.04,394.2V407.5" stroke="#f01010" stroke-opacity="0.45" stroke-width="1.1" fill="none"/>
<path d="M456.24,394.2h7.6 M456.24,407.5h7.6" stroke="#f01010" stroke-opacity="0.7" stroke-width="1.1" fill="none"/>
<path d="M460.04,440.5V451.3" stroke="#1010e0" stroke-opacity="0.45" stroke-width="1.1" fill="none"/>
<path d="M456.24,440.5h7.6 M456.24,451.3h7.6" stroke="#1010e0" stroke-opacity="0.7" stroke-width="1.1" fill="none"/>
<path d="M460.04,487.4V496.7" stroke="#10b810" stroke-opacity="0.45" stroke-width="1.1" fill="none"/>
<path d="M456.24,487.4h7.6 M456.24,496.7h7.6" stroke="#10b810" stroke-opacity="0.7" stroke-width="1.1" fill="none"/>
<path d="M512.2,432.3V446" stroke="#f01010" stroke-opacity="0.45" stroke-width="1.1" fill="none"/>
<path d="M508.4,432.3h7.6 M508.4,446h7.6" stroke="#f01010" stroke-opacity="0.7" stroke-width="1.1" fill="none"/>
<path d="M512.2,451.6V464.9" stroke="#1010e0" stroke-opacity="0.45" stroke-width="1.1" fill="none"/>
<path d="M508.4,451.6h7.6 M508.4,464.9h7.6" stroke="#1010e0" stroke-opacity="0.7" stroke-width="1.1" fill="none"/>
<path d="M512.2,508.5V517.5" stroke="#10b810" stroke-opacity="0.45" stroke-width="1.1" fill="none"/>
<path d="M508.4,508.5h7.6 M508.4,517.5h7.6" stroke="#10b810" stroke-opacity="0.7" stroke-width="1.1" fill="none"/>
<path d="M564.36,457.7V466.9" stroke="#f01010" stroke-opacity="0.45" stroke-width="1.1" fill="none"/>
<path d="M560.56,457.7h7.6 M560.56,466.9h7.6" stroke="#f01010" stroke-opacity="0.7" stroke-width="1.1" fill="none"/>
<path d="M564.36,487V495" stroke="#1010e0" stroke-opacity="0.45" stroke-width="1.1" fill="none"/>
<path d="M560.56,487h7.6 M560.56,495h7.6" stroke="#1010e0" stroke-opacity="0.7" stroke-width="1.1" fill="none"/>
<path d="M564.36,503.5V511.5" stroke="#10b810" stroke-opacity="0.45" stroke-width="1.1" fill="none"/>
<path d="M560.56,503.5h7.6 M560.56,511.5h7.6" stroke="#10b810" stroke-opacity="0.7" stroke-width="1.1" fill="none"/>
<circle cx="460.04" cy="400.5" r="4.6" fill="url(#gr)"/>
<circle cx="460.04" cy="445.7" r="4.6" fill="url(#gb)"/>
<circle cx="460.04" cy="491.8" r="4.6" fill="url(#gg)"/>
<circle cx="512.2" cy="439.4" r="4.6" fill="url(#gr)"/>
<circle cx="512.2" cy="458.5" r="4.6" fill="url(#gb)"/>
<circle cx="512.2" cy="513.4" r="4.6" fill="url(#gg)"/>
<circle cx="564.36" cy="462.3" r="4.6" fill="url(#gr)"/>
<circle cx="564.36" cy="491.1" r="4.6" fill="url(#gb)"/>
<circle cx="564.36" cy="507.6" r="4.6" fill="url(#gg)"/>
<path d="M446.8,494.65 L448.3,494.72 L449.8,494.79 L451.3,494.88 L452.8,494.97 L454.3,495.07 L455.8,495.17 L457.3,495.29 L458.8,495.41 L460.3,495.53 L461.8,495.67 L463.3,495.81 L464.8,495.95 L466.3,496.11 L467.8,496.27 L469.3,496.43 L470.8,496.61 L472.3,496.79 L473.8,496.97 L475.3,497.16 L476.8,497.36 L478.3,497.56 L479.8,497.77 L481.3,497.98 L482.8,498.2 L484.3,498.42 L485.8,498.65 L487.3,498.88 L488.8,499.12 L490.3,499.36 L491.8,499.61 L493.3,499.86 L494.8,500.11 L496.3,500.37 L497.8,500.63 L499.3,500.9 L500.8,501.17 L502.3,501.44 L503.8,501.72 L505.3,502 L506.8,502.28 L508.3,502.56 L509.8,502.85 L511.3,503.14 L512.8,503.43 L514.3,503.72 L515.8,504.01 L517.3,504.31 L518.8,504.61 L520.3,504.91 L521.8,505.21 L523.3,505.51 L524.8,505.81 L526.3,506.12 L527.8,506.42 L529.3,506.73 L530.8,507.03 L532.3,507.34 L533.8,507.65 L535.3,507.95 L536.8,508.26 L538.3,508.57 L539.8,508.87 L541.3,509.18 L542.8,509.48 L544.3,509.79 L545.8,510.09 L547.3,510.4 L548.8,510.7 L550.3,511 L551.8,511.3 L553.3,511.6 L554.8,511.9 L556.3,512.2 L557.8,512.49 L559.3,512.78 L560.8,513.08 L562.3,513.37 L563.8,513.66 L565.3,513.94 L566.8,514.23 L568.3,514.51 L569.8,514.79 L571.3,515.07 L572.8,515.35 L574.3,515.63 L575.8,515.9 L577.3,516.17 L578.8,516.44 L580.3,516.7 L581.8,516.97 L583.3,517.23 L584.8,517.49 L586.3,517.74 L587.8,518 L589.3,518.25 L590.8,518.5 L592.3,518.74 L593.8,518.99 L595.3,519.23 L596.8,519.47 L598.3,519.7 L599.8,519.94 L601.3,520.17 L602.8,520.4 L604.3,520.62 L605.8,520.84 L607.3,521.06 L608.8,521.28 L610.3,521.5 L611.8,521.71 L613.3,521.92 L614.8,522.12 L616.3,522.33 L617.8,522.53 L619.3,522.73 L620.8,522.92 L622.3,523.12 L623.8,523.31 L625.3,523.49 L626.8,523.68 L628.3,523.86 L629.45,524" stroke="#10b810" stroke-width="1.95" fill="none" stroke-linejoin="round" clip-path="url(#c20)"/>
<path d="M446.8,443.22 L448.3,443.38 L449.8,443.57 L451.3,443.77 L452.8,443.99 L454.3,444.23 L455.8,444.48 L457.3,444.75 L458.8,445.04 L460.3,445.35 L461.8,445.67 L463.3,446.01 L464.8,446.37 L466.3,446.74 L467.8,447.12 L469.3,447.53 L470.8,447.94 L472.3,448.38 L473.8,448.82 L475.3,449.28 L476.8,449.76 L478.3,450.25 L479.8,450.75 L481.3,451.27 L482.8,451.8 L484.3,452.34 L485.8,452.89 L487.3,453.45 L488.8,454.03 L490.3,454.62 L491.8,455.22 L493.3,455.83 L494.8,456.44 L496.3,457.07 L497.8,457.71 L499.3,458.36 L500.8,459.01 L502.3,459.67 L503.8,460.35 L505.3,461.02 L506.8,461.71 L508.3,462.4 L509.8,463.1 L511.3,463.8 L512.8,464.51 L514.3,465.23 L515.8,465.95 L517.3,466.67 L518.8,467.4 L520.3,468.13 L521.8,468.87 L523.3,469.61 L524.8,470.35 L526.3,471.09 L527.8,471.83 L529.3,472.58 L530.8,473.33 L532.3,474.07 L533.8,474.82 L535.3,475.57 L536.8,476.32 L538.3,477.07 L539.8,477.82 L541.3,478.56 L542.8,479.31 L544.3,480.05 L545.8,480.79 L547.3,481.53 L548.8,482.26 L550.3,483 L551.8,483.73 L553.3,484.45 L554.8,485.18 L556.3,485.9 L557.8,486.61 L559.3,487.32 L560.8,488.03 L562.3,488.73 L563.8,489.43 L565.3,490.12 L566.8,490.8 L568.3,491.48 L569.8,492.16 L571.3,492.83 L572.8,493.49 L574.3,494.15 L575.8,494.8 L577.3,495.44 L578.8,496.08 L580.3,496.71 L581.8,497.33 L583.3,497.95 L584.8,498.56 L586.3,499.16 L587.8,499.76 L589.3,500.35 L590.8,500.93 L592.3,501.5 L593.8,502.07 L595.3,502.62 L596.8,503.17 L598.3,503.72 L599.8,504.25 L601.3,504.78 L602.8,505.3 L604.3,505.81 L605.8,506.31 L607.3,506.81 L608.8,507.3 L610.3,507.78 L611.8,508.25 L613.3,508.72 L614.8,509.17 L616.3,509.62 L617.8,510.06 L619.3,510.5 L620.8,510.92 L622.3,511.34 L623.8,511.75 L625.3,512.15 L626.8,512.55 L628.3,512.94 L629.45,513.23" stroke="#1010e0" stroke-width="1.95" fill="none" stroke-linejoin="round" clip-path="url(#c20)"/>
<path d="M446.8,398.29 L448.3,398.57 L449.8,398.88 L451.3,399.22 L452.8,399.59 L454.3,399.99 L455.8,400.41 L457.3,400.86 L458.8,401.34 L460.3,401.85 L461.8,402.39 L463.3,402.95 L464.8,403.53 L466.3,404.14 L467.8,404.77 L469.3,405.43 L470.8,406.11 L472.3,406.81 L473.8,407.54 L475.3,408.28 L476.8,409.05 L478.3,409.83 L479.8,410.63 L481.3,411.46 L482.8,412.3 L484.3,413.15 L485.8,414.02 L487.3,414.91 L488.8,415.81 L490.3,416.73 L491.8,417.66 L493.3,418.6 L494.8,419.56 L496.3,420.52 L497.8,421.5 L499.3,422.49 L500.8,423.48 L502.3,424.49 L503.8,425.5 L505.3,426.52 L506.8,427.55 L508.3,428.58 L509.8,429.62 L511.3,430.66 L512.8,431.71 L514.3,432.76 L515.8,433.82 L517.3,434.88 L518.8,435.94 L520.3,437.01 L521.8,438.07 L523.3,439.14 L524.8,440.2 L526.3,441.27 L527.8,442.34 L529.3,443.4 L530.8,444.47 L532.3,445.53 L533.8,446.59 L535.3,447.65 L536.8,448.71 L538.3,449.77 L539.8,450.82 L541.3,451.87 L542.8,452.91 L544.3,453.95 L545.8,454.99 L547.3,456.02 L548.8,457.05 L550.3,458.07 L551.8,459.09 L553.3,460.1 L554.8,461.1 L556.3,462.1 L557.8,463.1 L559.3,464.09 L560.8,465.07 L562.3,466.05 L563.8,467.02 L565.3,467.98 L566.8,468.94 L568.3,469.89 L569.8,470.83 L571.3,471.77 L572.8,472.7 L574.3,473.62 L575.8,474.54 L577.3,475.45 L578.8,476.35 L580.3,477.24 L581.8,478.13 L583.3,479.01 L584.8,479.88 L586.3,480.75 L587.8,481.6 L589.3,482.45 L590.8,483.3 L592.3,484.13 L593.8,484.96 L595.3,485.78 L596.8,486.59 L598.3,487.4 L599.8,488.2 L601.3,488.99 L602.8,489.77 L604.3,490.54 L605.8,491.31 L607.3,492.07 L608.8,492.83 L610.3,493.57 L611.8,494.31 L613.3,495.05 L614.8,495.77 L616.3,496.49 L617.8,497.2 L619.3,497.9 L620.8,498.6 L622.3,499.29 L623.8,499.97 L625.3,500.65 L626.8,501.32 L628.3,501.98 L629.45,502.48" stroke="#f01010" stroke-width="1.95" fill="none" stroke-linejoin="round" clip-path="url(#c20)"/>
<path d="M95.44,574.2V588.7" stroke="#f01010" stroke-opacity="0.45" stroke-width="1.1" fill="none"/>
<path d="M91.64,574.2h7.6 M91.64,588.7h7.6" stroke="#f01010" stroke-opacity="0.7" stroke-width="1.1" fill="none"/>
<path d="M95.44,607.7V619.5" stroke="#1010e0" stroke-opacity="0.45" stroke-width="1.1" fill="none"/>
<path d="M91.64,607.7h7.6 M91.64,619.5h7.6" stroke="#1010e0" stroke-opacity="0.7" stroke-width="1.1" fill="none"/>
<path d="M95.44,681.4V696.5" stroke="#10b810" stroke-opacity="0.45" stroke-width="1.1" fill="none"/>
<path d="M91.64,681.4h7.6 M91.64,696.5h7.6" stroke="#10b810" stroke-opacity="0.7" stroke-width="1.1" fill="none"/>
<path d="M147.6,654.8V664.5" stroke="#f01010" stroke-opacity="0.45" stroke-width="1.1" fill="none"/>
<path d="M143.8,654.8h7.6 M143.8,664.5h7.6" stroke="#f01010" stroke-opacity="0.7" stroke-width="1.1" fill="none"/>
<path d="M147.6,693.5V701" stroke="#10b810" stroke-opacity="0.45" stroke-width="1.1" fill="none"/>
<path d="M143.8,693.5h7.6 M143.8,701h7.6" stroke="#10b810" stroke-opacity="0.7" stroke-width="1.1" fill="none"/>
<path d="M147.6,687V695" stroke="#1010e0" stroke-opacity="0.45" stroke-width="1.1" fill="none"/>
<path d="M143.8,687h7.6 M143.8,695h7.6" stroke="#1010e0" stroke-opacity="0.7" stroke-width="1.1" fill="none"/>
<path d="M199.76,692.5V700" stroke="#f01010" stroke-opacity="0.45" stroke-width="1.1" fill="none"/>
<path d="M195.96,692.5h7.6 M195.96,700h7.6" stroke="#f01010" stroke-opacity="0.7" stroke-width="1.1" fill="none"/>
<path d="M199.76,707V714.5" stroke="#1010e0" stroke-opacity="0.45" stroke-width="1.1" fill="none"/>
<path d="M195.96,707h7.6 M195.96,714.5h7.6" stroke="#1010e0" stroke-opacity="0.7" stroke-width="1.1" fill="none"/>
<path d="M251.92,718.8V728.5" stroke="#10b810" stroke-opacity="0.45" stroke-width="1.1" fill="none"/>
<path d="M248.12,718.8h7.6 M248.12,728.5h7.6" stroke="#10b810" stroke-opacity="0.7" stroke-width="1.1" fill="none"/>
<path d="M251.92,720.3V732" stroke="#f01010" stroke-opacity="0.45" stroke-width="1.1" fill="none"/>
<path d="M248.12,720.3h7.6 M248.12,732h7.6" stroke="#f01010" stroke-opacity="0.7" stroke-width="1.1" fill="none"/>
<path d="M251.92,722V734.2" stroke="#1010e0" stroke-opacity="0.45" stroke-width="1.1" fill="none"/>
<path d="M248.12,722h7.6 M248.12,734.2h7.6" stroke="#1010e0" stroke-opacity="0.7" stroke-width="1.1" fill="none"/>
<circle cx="95.44" cy="581.6" r="4.6" fill="url(#gr)"/>
<circle cx="95.44" cy="613.6" r="4.6" fill="url(#gb)"/>
<circle cx="95.44" cy="689" r="4.6" fill="url(#gg)"/>
<circle cx="147.6" cy="659.7" r="4.6" fill="url(#gr)"/>
<circle cx="147.6" cy="697" r="4.6" fill="url(#gg)"/>
<circle cx="147.6" cy="690.8" r="4.6" fill="url(#gb)"/>
<circle cx="199.76" cy="696.2" r="4.6" fill="url(#gr)"/>
<circle cx="199.76" cy="710.6" r="4.6" fill="url(#gb)"/>
<circle cx="251.92" cy="723.5" r="4.6" fill="url(#gg)"/>
<circle cx="251.92" cy="726.4" r="4.6" fill="url(#gr)"/>
<circle cx="251.92" cy="727.7" r="4.6" fill="url(#gb)"/>
<path d="M82.2,688.36 L83.7,688.43 L85.2,688.52 L86.7,688.61 L88.2,688.71 L89.7,688.82 L91.2,688.93 L92.7,689.06 L94.2,689.19 L95.7,689.33 L97.2,689.48 L98.7,689.63 L100.2,689.8 L101.7,689.97 L103.2,690.14 L104.7,690.33 L106.2,690.52 L107.7,690.72 L109.2,690.93 L110.7,691.14 L112.2,691.36 L113.7,691.58 L115.2,691.81 L116.7,692.05 L118.2,692.29 L119.7,692.54 L121.2,692.8 L122.7,693.06 L124.2,693.32 L125.7,693.6 L127.2,693.87 L128.7,694.15 L130.2,694.44 L131.7,694.73 L133.2,695.02 L134.7,695.32 L136.2,695.63 L137.7,695.94 L139.2,696.25 L140.7,696.56 L142.2,696.88 L143.7,697.2 L145.2,697.53 L146.7,697.86 L148.2,698.19 L149.7,698.52 L151.2,698.85 L152.7,699.19 L154.2,699.53 L155.7,699.88 L157.2,700.22 L158.7,700.56 L160.2,700.91 L161.7,701.26 L163.2,701.61 L164.7,701.96 L166.2,702.31 L167.7,702.66 L169.2,703.02 L170.7,703.37 L172.2,703.72 L173.7,704.08 L175.2,704.43 L176.7,704.78 L178.2,705.13 L179.7,705.49 L181.2,705.84 L182.7,706.19 L184.2,706.54 L185.7,706.89 L187.2,707.24 L188.7,707.58 L190.2,707.93 L191.7,708.27 L193.2,708.61 L194.7,708.95 L196.2,709.29 L197.7,709.63 L199.2,709.96 L200.7,710.3 L202.2,710.63 L203.7,710.96 L205.2,711.28 L206.7,711.6 L208.2,711.93 L209.7,712.24 L211.2,712.56 L212.7,712.87 L214.2,713.18 L215.7,713.49 L217.2,713.79 L218.7,714.09 L220.2,714.39 L221.7,714.69 L223.2,714.98 L224.7,715.27 L226.2,715.55 L227.7,715.83 L229.2,716.11 L230.7,716.39 L232.2,716.66 L233.7,716.93 L235.2,717.19 L236.7,717.45 L238.2,717.71 L239.7,717.96 L241.2,718.22 L242.7,718.46 L244.2,718.71 L245.7,718.95 L247.2,719.18 L248.7,719.42 L250.2,719.65 L251.7,719.87 L253.2,720.09 L254.7,720.31 L256.2,720.53 L257.7,720.74 L259.2,720.95 L260.7,721.15 L262.2,721.35 L263.7,721.55 L264.5,721.65" stroke="#10b810" stroke-width="1.95" fill="none" stroke-linejoin="round" clip-path="url(#c01)"/>
<path d="M82.2,597.93 L83.7,599.41 L85.2,601.02 L86.7,602.75 L88.2,604.6 L89.7,606.55 L91.2,608.59 L92.7,610.72 L94.2,612.92 L95.7,615.19 L97.2,617.51 L98.7,619.88 L100.2,622.29 L101.7,624.72 L103.2,627.17 L104.7,629.63 L106.2,632.1 L107.7,634.57 L109.2,637.02 L110.7,639.47 L112.2,641.89 L113.7,644.29 L115.2,646.66 L116.7,649 L118.2,651.3 L119.7,653.56 L121.2,655.78 L122.7,657.95 L124.2,660.08 L125.7,662.17 L127.2,664.2 L128.7,666.18 L130.2,668.12 L131.7,670 L133.2,671.84 L134.7,673.62 L136.2,675.36 L137.7,677.04 L139.2,678.67 L140.7,680.26 L142.2,681.8 L143.7,683.28 L145.2,684.73 L146.7,686.13 L148.2,687.48 L149.7,688.79 L151.2,690.05 L152.7,691.28 L154.2,692.47 L155.7,693.61 L157.2,694.72 L158.7,695.79 L160.2,696.82 L161.7,697.82 L163.2,698.79 L164.7,699.72 L166.2,700.63 L167.7,701.5 L169.2,702.34 L170.7,703.15 L172.2,703.94 L173.7,704.7 L175.2,705.43 L176.7,706.14 L178.2,706.83 L179.7,707.49 L181.2,708.13 L182.7,708.75 L184.2,709.34 L185.7,709.92 L187.2,710.48 L188.7,711.02 L190.2,711.54 L191.7,712.04 L193.2,712.53 L194.7,713 L196.2,713.46 L197.7,713.9 L199.2,714.33 L200.7,714.74 L202.2,715.14 L203.7,715.53 L205.2,715.9 L206.7,716.27 L208.2,716.62 L209.7,716.96 L211.2,717.29 L212.7,717.61 L214.2,717.92 L215.7,718.22 L217.2,718.51 L218.7,718.79 L220.2,719.06 L221.7,719.33 L223.2,719.58 L224.7,719.83 L226.2,720.08 L227.7,720.31 L229.2,720.54 L230.7,720.76 L232.2,720.97 L233.7,721.18 L235.2,721.38 L236.7,721.58 L238.2,721.77 L239.7,721.95 L241.2,722.13 L242.7,722.31 L244.2,722.48 L245.7,722.64 L247.2,722.8 L248.7,722.96 L250.2,723.11 L251.7,723.26 L253.2,723.4 L254.7,723.54 L256.2,723.68 L257.7,723.81 L259.2,723.94 L260.7,724.06 L262.2,724.19 L263.7,724.3 L264.5,724.37" stroke="#1010e0" stroke-width="1.95" fill="none" stroke-linejoin="round" clip-path="url(#c01)"/>
<path d="M82.2,561.12 L83.7,563.12 L85.2,565.27 L86.7,567.55 L88.2,569.95 L89.7,572.45 L91.2,575.04 L92.7,577.69 L94.2,580.39 L95.7,583.14 L97.2,585.92 L98.7,588.71 L100.2,591.51 L101.7,594.3 L103.2,597.09 L104.7,599.85 L106.2,602.6 L107.7,605.31 L109.2,607.99 L110.7,610.63 L112.2,613.23 L113.7,615.78 L115.2,618.29 L116.7,620.75 L118.2,623.17 L119.7,625.53 L121.2,627.84 L122.7,630.11 L124.2,632.32 L125.7,634.48 L127.2,636.59 L128.7,638.66 L130.2,640.67 L131.7,642.64 L133.2,644.56 L134.7,646.43 L136.2,648.26 L137.7,650.04 L139.2,651.78 L140.7,653.48 L142.2,655.14 L143.7,656.76 L145.2,658.33 L146.7,659.87 L148.2,661.38 L149.7,662.84 L151.2,664.28 L152.7,665.67 L154.2,667.04 L155.7,668.37 L157.2,669.67 L158.7,670.94 L160.2,672.19 L161.7,673.4 L163.2,674.58 L164.7,675.74 L166.2,676.88 L167.7,677.98 L169.2,679.07 L170.7,680.13 L172.2,681.16 L173.7,682.17 L175.2,683.17 L176.7,684.14 L178.2,685.09 L179.7,686.02 L181.2,686.93 L182.7,687.82 L184.2,688.69 L185.7,689.55 L187.2,690.38 L188.7,691.21 L190.2,692.01 L191.7,692.8 L193.2,693.57 L194.7,694.33 L196.2,695.08 L197.7,695.81 L199.2,696.52 L200.7,697.22 L202.2,697.91 L203.7,698.59 L205.2,699.25 L206.7,699.9 L208.2,700.54 L209.7,701.17 L211.2,701.79 L212.7,702.4 L214.2,702.99 L215.7,703.58 L217.2,704.15 L218.7,704.72 L220.2,705.28 L221.7,705.82 L223.2,706.36 L224.7,706.89 L226.2,707.41 L227.7,707.92 L229.2,708.42 L230.7,708.92 L232.2,709.4 L233.7,709.88 L235.2,710.35 L236.7,710.82 L238.2,711.27 L239.7,711.72 L241.2,712.17 L242.7,712.6 L244.2,713.03 L245.7,713.46 L247.2,713.87 L248.7,714.28 L250.2,714.69 L251.7,715.09 L253.2,715.48 L254.7,715.87 L256.2,716.25 L257.7,716.62 L259.2,716.99 L260.7,717.36 L262.2,717.72 L263.7,718.08 L264.5,718.26" stroke="#f01010" stroke-width="1.95" fill="none" stroke-linejoin="round" clip-path="url(#c01)"/>
<path d="M277.74,632.5V643.9" stroke="#f01010" stroke-opacity="0.45" stroke-width="1.1" fill="none"/>
<path d="M273.94,632.5h7.6 M273.94,643.9h7.6" stroke="#f01010" stroke-opacity="0.7" stroke-width="1.1" fill="none"/>
<path d="M277.74,656.4V666.5" stroke="#1010e0" stroke-opacity="0.45" stroke-width="1.1" fill="none"/>
<path d="M273.94,656.4h7.6 M273.94,666.5h7.6" stroke="#1010e0" stroke-opacity="0.7" stroke-width="1.1" fill="none"/>
<path d="M277.74,701V709" stroke="#10b810" stroke-opacity="0.45" stroke-width="1.1" fill="none"/>
<path d="M273.94,701h7.6 M273.94,709h7.6" stroke="#10b810" stroke-opacity="0.7" stroke-width="1.1" fill="none"/>
<path d="M329.9,686V694" stroke="#f01010" stroke-opacity="0.45" stroke-width="1.1" fill="none"/>
<path d="M326.1,686h7.6 M326.1,694h7.6" stroke="#f01010" stroke-opacity="0.7" stroke-width="1.1" fill="none"/>
<path d="M329.9,712.5V719.5" stroke="#10b810" stroke-opacity="0.45" stroke-width="1.1" fill="none"/>
<path d="M326.1,712.5h7.6 M326.1,719.5h7.6" stroke="#10b810" stroke-opacity="0.7" stroke-width="1.1" fill="none"/>
<path d="M329.9,708.5V715.5" stroke="#1010e0" stroke-opacity="0.45" stroke-width="1.1" fill="none"/>
<path d="M326.1,708.5h7.6 M326.1,715.5h7.6" stroke="#1010e0" stroke-opacity="0.7" stroke-width="1.1" fill="none"/>
<path d="M382.06,706V713.5" stroke="#f01010" stroke-opacity="0.45" stroke-width="1.1" fill="none"/>
<path d="M378.26,706h7.6 M378.26,713.5h7.6" stroke="#f01010" stroke-opacity="0.7" stroke-width="1.1" fill="none"/>
<path d="M382.06,713.5V720.5" stroke="#10b810" stroke-opacity="0.45" stroke-width="1.1" fill="none"/>
<path d="M378.26,713.5h7.6 M378.26,720.5h7.6" stroke="#10b810" stroke-opacity="0.7" stroke-width="1.1" fill="none"/>
<path d="M382.06,720.5V728" stroke="#1010e0" stroke-opacity="0.45" stroke-width="1.1" fill="none"/>
<path d="M378.26,720.5h7.6 M378.26,728h7.6" stroke="#1010e0" stroke-opacity="0.7" stroke-width="1.1" fill="none"/>
<circle cx="277.74" cy="638.9" r="4.6" fill="url(#gr)"/>
<circle cx="277.74" cy="661.7" r="4.6" fill="url(#gb)"/>
<circle cx="277.74" cy="705" r="4.6" fill="url(#gg)"/>
<circle cx="329.9" cy="689.9" r="4.6" fill="url(#gr)"/>
<circle cx="329.9" cy="716" r="4.6" fill="url(#gg)"/>
<circle cx="329.9" cy="712" r="4.6" fill="url(#gb)"/>
<circle cx="382.06" cy="709.8" r="4.6" fill="url(#gr)"/>
<circle cx="382.06" cy="716.9" r="4.6" fill="url(#gg)"/>
<circle cx="382.06" cy="724.2" r="4.6" fill="url(#gb)"/>
<path d="M264.5,705.93 L266,705.97 L267.5,706.02 L269,706.08 L270.5,706.14 L272,706.2 L273.5,706.27 L275,706.34 L276.5,706.42 L278,706.5 L279.5,706.59 L281,706.68 L282.5,706.78 L284,706.88 L285.5,706.99 L287,707.1 L288.5,707.21 L290,707.33 L291.5,707.45 L293,707.57 L294.5,707.7 L296,707.84 L297.5,707.97 L299,708.11 L300.5,708.26 L302,708.41 L303.5,708.56 L305,708.71 L306.5,708.87 L308,709.03 L309.5,709.2 L311,709.37 L312.5,709.54 L314,709.71 L315.5,709.89 L317,710.06 L318.5,710.25 L320,710.43 L321.5,710.62 L323,710.8 L324.5,710.99 L326,711.19 L327.5,711.38 L329,711.58 L330.5,711.78 L332,711.98 L333.5,712.18 L335,712.38 L336.5,712.59 L338,712.79 L339.5,713 L341,713.21 L342.5,713.42 L344,713.63 L345.5,713.84 L347,714.05 L348.5,714.27 L350,714.48 L351.5,714.69 L353,714.91 L354.5,715.12 L356,715.34 L357.5,715.55 L359,715.77 L360.5,715.98 L362,716.2 L363.5,716.41 L365,716.62 L366.5,716.84 L368,717.05 L369.5,717.27 L371,717.48 L372.5,717.69 L374,717.9 L375.5,718.11 L377,718.32 L378.5,718.53 L380,718.74 L381.5,718.95 L383,719.15 L384.5,719.36 L386,719.56 L387.5,719.76 L389,719.96 L390.5,720.16 L392,720.36 L393.5,720.56 L395,720.75 L396.5,720.94 L398,721.14 L399.5,721.33 L401,721.52 L402.5,721.7 L404,721.89 L405.5,722.07 L407,722.25 L408.5,722.43 L410,722.61 L411.5,722.79 L413,722.96 L414.5,723.13 L416,723.3 L417.5,723.47 L419,723.64 L420.5,723.8 L422,723.96 L423.5,724.12 L425,724.28 L426.5,724.44 L428,724.59 L429.5,724.74 L431,724.89 L432.5,725.04 L434,725.19 L435.5,725.33 L437,725.47 L438.5,725.61 L440,725.75 L441.5,725.88 L443,726.01 L444.5,726.14 L446,726.27 L446.8,726.34" stroke="#10b810" stroke-width="1.95" fill="none" stroke-linejoin="round" clip-path="url(#c11)"/>
<path d="M264.5,652.66 L266,653.74 L267.5,654.91 L269,656.16 L270.5,657.49 L272,658.89 L273.5,660.35 L275,661.87 L276.5,663.42 L278,665.02 L279.5,666.64 L281,668.29 L282.5,669.95 L284,671.63 L285.5,673.3 L287,674.98 L288.5,676.65 L290,678.3 L291.5,679.94 L293,681.56 L294.5,683.16 L296,684.73 L297.5,686.27 L299,687.78 L300.5,689.26 L302,690.71 L303.5,692.11 L305,693.49 L306.5,694.82 L308,696.12 L309.5,697.38 L311,698.6 L312.5,699.78 L314,700.93 L315.5,702.04 L317,703.11 L318.5,704.15 L320,705.15 L321.5,706.12 L323,707.05 L324.5,707.95 L326,708.81 L327.5,709.65 L329,710.45 L330.5,711.23 L332,711.98 L333.5,712.7 L335,713.39 L336.5,714.05 L338,714.69 L339.5,715.31 L341,715.9 L342.5,716.48 L344,717.03 L345.5,717.55 L347,718.06 L348.5,718.55 L350,719.02 L351.5,719.48 L353,719.91 L354.5,720.33 L356,720.74 L357.5,721.13 L359,721.5 L360.5,721.86 L362,722.21 L363.5,722.54 L365,722.86 L366.5,723.17 L368,723.47 L369.5,723.76 L371,724.04 L372.5,724.3 L374,724.56 L375.5,724.81 L377,725.05 L378.5,725.28 L380,725.5 L381.5,725.72 L383,725.93 L384.5,726.13 L386,726.32 L387.5,726.51 L389,726.69 L390.5,726.86 L392,727.03 L393.5,727.19 L395,727.35 L396.5,727.5 L398,727.64 L399.5,727.79 L401,727.92 L402.5,728.06 L404,728.18 L405.5,728.31 L407,728.43 L408.5,728.54 L410,728.66 L411.5,728.77 L413,728.87 L414.5,728.97 L416,729.07 L417.5,729.17 L419,729.26 L420.5,729.35 L422,729.44 L423.5,729.52 L425,729.61 L426.5,729.69 L428,729.76 L429.5,729.84 L431,729.91 L432.5,729.98 L434,730.05 L435.5,730.12 L437,730.18 L438.5,730.24 L440,730.3 L441.5,730.36 L443,730.42 L444.5,730.48 L446,730.53 L446.8,730.56" stroke="#1010e0" stroke-width="1.95" fill="none" stroke-linejoin="round" clip-path="url(#c11)"/>
<path d="M264.5,627.24 L266,628.41 L267.5,629.69 L269,631.04 L270.5,632.48 L272,633.98 L273.5,635.54 L275,637.15 L276.5,638.8 L278,640.48 L279.5,642.18 L281,643.91 L282.5,645.64 L284,647.38 L285.5,649.12 L287,650.85 L288.5,652.58 L290,654.29 L291.5,655.98 L293,657.65 L294.5,659.3 L296,660.93 L297.5,662.53 L299,664.1 L300.5,665.64 L302,667.16 L303.5,668.64 L305,670.09 L306.5,671.5 L308,672.89 L309.5,674.24 L311,675.56 L312.5,676.85 L314,678.11 L315.5,679.34 L317,680.54 L318.5,681.7 L320,682.84 L321.5,683.95 L323,685.03 L324.5,686.08 L326,687.11 L327.5,688.11 L329,689.08 L330.5,690.03 L332,690.95 L333.5,691.85 L335,692.73 L336.5,693.59 L338,694.42 L339.5,695.23 L341,696.02 L342.5,696.79 L344,697.54 L345.5,698.28 L347,698.99 L348.5,699.69 L350,700.37 L351.5,701.03 L353,701.68 L354.5,702.31 L356,702.92 L357.5,703.52 L359,704.11 L360.5,704.68 L362,705.24 L363.5,705.79 L365,706.32 L366.5,706.84 L368,707.35 L369.5,707.85 L371,708.33 L372.5,708.81 L374,709.27 L375.5,709.73 L377,710.17 L378.5,710.61 L380,711.03 L381.5,711.45 L383,711.86 L384.5,712.25 L386,712.64 L387.5,713.03 L389,713.4 L390.5,713.77 L392,714.13 L393.5,714.48 L395,714.82 L396.5,715.16 L398,715.49 L399.5,715.81 L401,716.13 L402.5,716.44 L404,716.75 L405.5,717.05 L407,717.34 L408.5,717.63 L410,717.92 L411.5,718.19 L413,718.47 L414.5,718.73 L416,719 L417.5,719.25 L419,719.51 L420.5,719.76 L422,720 L423.5,720.24 L425,720.48 L426.5,720.71 L428,720.94 L429.5,721.16 L431,721.38 L432.5,721.6 L434,721.81 L435.5,722.02 L437,722.22 L438.5,722.42 L440,722.62 L441.5,722.82 L443,723.01 L444.5,723.2 L446,723.39 L446.8,723.49" stroke="#f01010" stroke-width="1.95" fill="none" stroke-linejoin="round" clip-path="url(#c11)"/>
<path d="M460.04,655V662" stroke="#f01010" stroke-opacity="0.45" stroke-width="1.1" fill="none"/>
<path d="M456.24,655h7.6 M456.24,662h7.6" stroke="#f01010" stroke-opacity="0.7" stroke-width="1.1" fill="none"/>
<path d="M460.04,689.3V696.3" stroke="#10b810" stroke-opacity="0.45" stroke-width="1.1" fill="none"/>
<path d="M456.24,689.3h7.6 M456.24,696.3h7.6" stroke="#10b810" stroke-opacity="0.7" stroke-width="1.1" fill="none"/>
<path d="M460.04,681.5V688.5" stroke="#1010e0" stroke-opacity="0.45" stroke-width="1.1" fill="none"/>
<path d="M456.24,681.5h7.6 M456.24,688.5h7.6" stroke="#1010e0" stroke-opacity="0.7" stroke-width="1.1" fill="none"/>
<path d="M512.2,665.6V672.6" stroke="#f01010" stroke-opacity="0.45" stroke-width="1.1" fill="none"/>
<path d="M508.4,665.6h7.6 M508.4,672.6h7.6" stroke="#f01010" stroke-opacity="0.7" stroke-width="1.1" fill="none"/>
<path d="M512.2,700.7V707.7" stroke="#10b810" stroke-opacity="0.45" stroke-width="1.1" fill="none"/>
<path d="M508.4,700.7h7.6 M508.4,707.7h7.6" stroke="#10b810" stroke-opacity="0.7" stroke-width="1.1" fill="none"/>
<path d="M512.2,693.5V700.5" stroke="#1010e0" stroke-opacity="0.45" stroke-width="1.1" fill="none"/>
<path d="M508.4,693.5h7.6 M508.4,700.5h7.6" stroke="#1010e0" stroke-opacity="0.7" stroke-width="1.1" fill="none"/>
<path d="M564.36,687V694" stroke="#f01010" stroke-opacity="0.45" stroke-width="1.1" fill="none"/>
<path d="M560.56,687h7.6 M560.56,694h7.6" stroke="#f01010" stroke-opacity="0.7" stroke-width="1.1" fill="none"/>
<path d="M564.36,711.4V718.4" stroke="#10b810" stroke-opacity="0.45" stroke-width="1.1" fill="none"/>
<path d="M560.56,711.4h7.6 M560.56,718.4h7.6" stroke="#10b810" stroke-opacity="0.7" stroke-width="1.1" fill="none"/>
<path d="M564.36,704.8V711.8" stroke="#1010e0" stroke-opacity="0.45" stroke-width="1.1" fill="none"/>
<path d="M560.56,704.8h7.6 M560.56,711.8h7.6" stroke="#1010e0" stroke-opacity="0.7" stroke-width="1.1" fill="none"/>
<circle cx="460.04" cy="658.5" r="4.6" fill="url(#gr)"/>
<circle cx="460.04" cy="692.8" r="4.6" fill="url(#gg)"/>
<circle cx="460.04" cy="685" r="4.6" fill="url(#gb)"/>
<circle cx="512.2" cy="669.1" r="4.6" fill="url(#gr)"/>
<circle cx="512.2" cy="704.2" r="4.6" fill="url(#gg)"/>
<circle cx="512.2" cy="697" r="4.6" fill="url(#gb)"/>
<circle cx="564.36" cy="690.5" r="4.6" fill="url(#gr)"/>
<circle cx="564.36" cy="714.9" r="4.6" fill="url(#gg)"/>
<circle cx="564.36" cy="708.3" r="4.6" fill="url(#gb)"/>
<path d="M446.8,694.92 L448.3,694.99 L449.8,695.06 L451.3,695.15 L452.8,695.24 L454.3,695.34 L455.8,695.44 L457.3,695.55 L458.8,695.67 L460.3,695.8 L461.8,695.93 L463.3,696.07 L464.8,696.22 L466.3,696.37 L467.8,696.53 L469.3,696.7 L470.8,696.87 L472.3,697.05 L473.8,697.23 L475.3,697.42 L476.8,697.62 L478.3,697.82 L479.8,698.03 L481.3,698.24 L482.8,698.45 L484.3,698.68 L485.8,698.9 L487.3,699.13 L488.8,699.37 L490.3,699.61 L491.8,699.86 L493.3,700.11 L494.8,700.36 L496.3,700.62 L497.8,700.88 L499.3,701.14 L500.8,701.41 L502.3,701.68 L503.8,701.95 L505.3,702.23 L506.8,702.51 L508.3,702.79 L509.8,703.07 L511.3,703.36 L512.8,703.64 L514.3,703.93 L515.8,704.23 L517.3,704.52 L518.8,704.81 L520.3,705.11 L521.8,705.41 L523.3,705.7 L524.8,706 L526.3,706.3 L527.8,706.6 L529.3,706.9 L530.8,707.2 L532.3,707.5 L533.8,707.8 L535.3,708.1 L536.8,708.4 L538.3,708.7 L539.8,709 L541.3,709.29 L542.8,709.59 L544.3,709.89 L545.8,710.18 L547.3,710.47 L548.8,710.77 L550.3,711.06 L551.8,711.35 L553.3,711.63 L554.8,711.92 L556.3,712.2 L557.8,712.48 L559.3,712.76 L560.8,713.04 L562.3,713.32 L563.8,713.59 L565.3,713.86 L566.8,714.13 L568.3,714.4 L569.8,714.66 L571.3,714.92 L572.8,715.18 L574.3,715.43 L575.8,715.69 L577.3,715.94 L578.8,716.18 L580.3,716.43 L581.8,716.67 L583.3,716.9 L584.8,717.14 L586.3,717.37 L587.8,717.6 L589.3,717.83 L590.8,718.05 L592.3,718.27 L593.8,718.48 L595.3,718.7 L596.8,718.91 L598.3,719.11 L599.8,719.32 L601.3,719.52 L602.8,719.71 L604.3,719.91 L605.8,720.1 L607.3,720.28 L608.8,720.47 L610.3,720.65 L611.8,720.82 L613.3,721 L614.8,721.17 L616.3,721.34 L617.8,721.5 L619.3,721.66 L620.8,721.82 L622.3,721.98 L623.8,722.13 L625.3,722.28 L626.8,722.42 L628.3,722.57 L629.45,722.68" stroke="#10b810" stroke-width="1.95" fill="none" stroke-linejoin="round" clip-path="url(#c21)"/>
<path d="M446.8,684.28 L448.3,684.39 L449.8,684.52 L451.3,684.65 L452.8,684.8 L454.3,684.96 L455.8,685.13 L457.3,685.31 L458.8,685.5 L460.3,685.7 L461.8,685.92 L463.3,686.14 L464.8,686.37 L466.3,686.61 L467.8,686.85 L469.3,687.11 L470.8,687.37 L472.3,687.65 L473.8,687.93 L475.3,688.21 L476.8,688.51 L478.3,688.81 L479.8,689.12 L481.3,689.43 L482.8,689.75 L484.3,690.07 L485.8,690.4 L487.3,690.73 L488.8,691.07 L490.3,691.41 L491.8,691.76 L493.3,692.11 L494.8,692.46 L496.3,692.81 L497.8,693.17 L499.3,693.53 L500.8,693.9 L502.3,694.26 L503.8,694.63 L505.3,695 L506.8,695.37 L508.3,695.74 L509.8,696.11 L511.3,696.48 L512.8,696.85 L514.3,697.23 L515.8,697.6 L517.3,697.98 L518.8,698.35 L520.3,698.72 L521.8,699.1 L523.3,699.47 L524.8,699.84 L526.3,700.21 L527.8,700.59 L529.3,700.96 L530.8,701.32 L532.3,701.69 L533.8,702.06 L535.3,702.42 L536.8,702.79 L538.3,703.15 L539.8,703.51 L541.3,703.87 L542.8,704.23 L544.3,704.58 L545.8,704.93 L547.3,705.29 L548.8,705.64 L550.3,705.98 L551.8,706.33 L553.3,706.67 L554.8,707.02 L556.3,707.36 L557.8,707.69 L559.3,708.03 L560.8,708.36 L562.3,708.69 L563.8,709.02 L565.3,709.35 L566.8,709.67 L568.3,710 L569.8,710.32 L571.3,710.63 L572.8,710.95 L574.3,711.26 L575.8,711.57 L577.3,711.88 L578.8,712.19 L580.3,712.49 L581.8,712.79 L583.3,713.09 L584.8,713.39 L586.3,713.69 L587.8,713.98 L589.3,714.27 L590.8,714.56 L592.3,714.84 L593.8,715.13 L595.3,715.41 L596.8,715.69 L598.3,715.96 L599.8,716.24 L601.3,716.51 L602.8,716.78 L604.3,717.05 L605.8,717.32 L607.3,717.58 L608.8,717.84 L610.3,718.1 L611.8,718.36 L613.3,718.62 L614.8,718.87 L616.3,719.12 L617.8,719.37 L619.3,719.62 L620.8,719.86 L622.3,720.11 L623.8,720.35 L625.3,720.59 L626.8,720.83 L628.3,721.06 L629.45,721.24" stroke="#1010e0" stroke-width="1.95" fill="none" stroke-linejoin="round" clip-path="url(#c21)"/>
<path d="M446.8,656.3 L448.3,656.41 L449.8,656.53 L451.3,656.65 L452.8,656.79 L454.3,656.94 L455.8,657.1 L457.3,657.27 L458.8,657.46 L460.3,657.65 L461.8,657.86 L463.3,658.07 L464.8,658.3 L466.3,658.53 L467.8,658.78 L469.3,659.04 L470.8,659.31 L472.3,659.59 L473.8,659.87 L475.3,660.17 L476.8,660.48 L478.3,660.8 L479.8,661.13 L481.3,661.46 L482.8,661.81 L484.3,662.16 L485.8,662.53 L487.3,662.9 L488.8,663.28 L490.3,663.67 L491.8,664.07 L493.3,664.48 L494.8,664.89 L496.3,665.31 L497.8,665.75 L499.3,666.18 L500.8,666.63 L502.3,667.08 L503.8,667.54 L505.3,668.01 L506.8,668.48 L508.3,668.96 L509.8,669.45 L511.3,669.94 L512.8,670.44 L514.3,670.94 L515.8,671.45 L517.3,671.97 L518.8,672.49 L520.3,673.01 L521.8,673.54 L523.3,674.08 L524.8,674.62 L526.3,675.16 L527.8,675.71 L529.3,676.26 L530.8,676.82 L532.3,677.37 L533.8,677.94 L535.3,678.5 L536.8,679.07 L538.3,679.64 L539.8,680.22 L541.3,680.79 L542.8,681.37 L544.3,681.95 L545.8,682.54 L547.3,683.12 L548.8,683.71 L550.3,684.29 L551.8,684.88 L553.3,685.47 L554.8,686.06 L556.3,686.65 L557.8,687.24 L559.3,687.83 L560.8,688.43 L562.3,689.02 L563.8,689.61 L565.3,690.2 L566.8,690.79 L568.3,691.38 L569.8,691.97 L571.3,692.56 L572.8,693.15 L574.3,693.73 L575.8,694.32 L577.3,694.9 L578.8,695.48 L580.3,696.06 L581.8,696.64 L583.3,697.22 L584.8,697.79 L586.3,698.36 L587.8,698.93 L589.3,699.5 L590.8,700.06 L592.3,700.62 L593.8,701.18 L595.3,701.74 L596.8,702.29 L598.3,702.84 L599.8,703.38 L601.3,703.93 L602.8,704.47 L604.3,705 L605.8,705.53 L607.3,706.06 L608.8,706.59 L610.3,707.11 L611.8,707.62 L613.3,708.14 L614.8,708.64 L616.3,709.15 L617.8,709.65 L619.3,710.15 L620.8,710.64 L622.3,711.12 L623.8,711.61 L625.3,712.09 L626.8,712.56 L628.3,713.03 L629.45,713.39" stroke="#f01010" stroke-width="1.95" fill="none" stroke-linejoin="round" clip-path="url(#c21)"/>
<path d="M95.44,760.9V774.6" stroke="#f01010" stroke-opacity="0.45" stroke-width="1.1" fill="none"/>
<path d="M91.64,760.9h7.6 M91.64,774.6h7.6" stroke="#f01010" stroke-opacity="0.7" stroke-width="1.1" fill="none"/>
<path d="M95.44,836.8V847.1" stroke="#1010e0" stroke-opacity="0.45" stroke-width="1.1" fill="none"/>
<path d="M91.64,836.8h7.6 M91.64,847.1h7.6" stroke="#1010e0" stroke-opacity="0.7" stroke-width="1.1" fill="none"/>
<path d="M95.44,862.7V878.4" stroke="#10b810" stroke-opacity="0.45" stroke-width="1.1" fill="none"/>
<path d="M91.64,862.7h7.6 M91.64,878.4h7.6" stroke="#10b810" stroke-opacity="0.7" stroke-width="1.1" fill="none"/>
<path d="M147.6,826.5V839.6" stroke="#f01010" stroke-opacity="0.45" stroke-width="1.1" fill="none"/>
<path d="M143.8,826.5h7.6 M143.8,839.6h7.6" stroke="#f01010" stroke-opacity="0.7" stroke-width="1.1" fill="none"/>
<path d="M147.6,873.3V883" stroke="#10b810" stroke-opacity="0.45" stroke-width="1.1" fill="none"/>
<path d="M143.8,873.3h7.6 M143.8,883h7.6" stroke="#10b810" stroke-opacity="0.7" stroke-width="1.1" fill="none"/>
<path d="M147.6,888V896" stroke="#1010e0" stroke-opacity="0.45" stroke-width="1.1" fill="none"/>
<path d="M143.8,888h7.6 M143.8,896h7.6" stroke="#1010e0" stroke-opacity="0.7" stroke-width="1.1" fill="none"/>
<path d="M199.76,883V890.5" stroke="#f01010" stroke-opacity="0.45" stroke-width="1.1" fill="none"/>
<path d="M195.96,883h7.6 M195.96,890.5h7.6" stroke="#f01010" stroke-opacity="0.7" stroke-width="1.1" fill="none"/>
<path d="M199.76,901.5V909" stroke="#10b810" stroke-opacity="0.45" stroke-width="1.1" fill="none"/>
<path d="M195.96,901.5h7.6 M195.96,909h7.6" stroke="#10b810" stroke-opacity="0.7" stroke-width="1.1" fill="none"/>
<path d="M199.76,912.5V920" stroke="#1010e0" stroke-opacity="0.45" stroke-width="1.1" fill="none"/>
<path d="M195.96,912.5h7.6 M195.96,920h7.6" stroke="#1010e0" stroke-opacity="0.7" stroke-width="1.1" fill="none"/>
<circle cx="95.44" cy="768.4" r="4.6" fill="url(#gr)"/>
<circle cx="95.44" cy="842.1" r="4.6" fill="url(#gb)"/>
<circle cx="95.44" cy="870.9" r="4.6" fill="url(#gg)"/>
<circle cx="147.6" cy="833.1" r="4.6" fill="url(#gr)"/>
<circle cx="147.6" cy="878" r="4.6" fill="url(#gg)"/>
<circle cx="147.6" cy="892.1" r="4.6" fill="url(#gb)"/>
<circle cx="199.76" cy="886.8" r="4.6" fill="url(#gr)"/>
<circle cx="199.76" cy="905.2" r="4.6" fill="url(#gg)"/>
<circle cx="199.76" cy="916.3" r="4.6" fill="url(#gb)"/>
<path d="M82.2,871.27 L83.7,871.38 L85.2,871.5 L86.7,871.64 L88.2,871.78 L89.7,871.94 L91.2,872.1 L92.7,872.28 L94.2,872.47 L95.7,872.67 L97.2,872.88 L98.7,873.1 L100.2,873.34 L101.7,873.58 L103.2,873.83 L104.7,874.09 L106.2,874.36 L107.7,874.64 L109.2,874.93 L110.7,875.23 L112.2,875.54 L113.7,875.85 L115.2,876.18 L116.7,876.51 L118.2,876.85 L119.7,877.19 L121.2,877.55 L122.7,877.91 L124.2,878.27 L125.7,878.65 L127.2,879.03 L128.7,879.42 L130.2,879.81 L131.7,880.21 L133.2,880.61 L134.7,881.02 L136.2,881.43 L137.7,881.85 L139.2,882.27 L140.7,882.69 L142.2,883.12 L143.7,883.56 L145.2,883.99 L146.7,884.43 L148.2,884.87 L149.7,885.32 L151.2,885.77 L152.7,886.22 L154.2,886.67 L155.7,887.12 L157.2,887.58 L158.7,888.04 L160.2,888.49 L161.7,888.95 L163.2,889.41 L164.7,889.88 L166.2,890.34 L167.7,890.8 L169.2,891.26 L170.7,891.72 L172.2,892.19 L173.7,892.65 L175.2,893.11 L176.7,893.57 L178.2,894.03 L179.7,894.49 L181.2,894.95 L182.7,895.41 L184.2,895.87 L185.7,896.32 L187.2,896.78 L188.7,897.23 L190.2,897.68 L191.7,898.13 L193.2,898.58 L194.7,899.02 L196.2,899.47 L197.7,899.91 L199.2,900.35 L200.7,900.79 L202.2,901.22 L203.7,901.66 L205.2,902.09 L206.7,902.52 L208.2,902.94 L209.7,903.37 L211.2,903.79 L212.7,904.2 L214.2,904.62 L215.7,905.03 L217.2,905.44 L218.7,905.85 L220.2,906.25 L221.7,906.65 L223.2,907.05 L224.7,907.45 L226.2,907.84 L227.7,908.23 L229.2,908.62 L230.7,909 L232.2,909.38 L233.7,909.76 L235.2,910.13 L236.7,910.51 L238.2,910.87 L239.7,911.24 L241.2,911.6 L242.7,911.96 L244.2,912.32 L245.7,912.67 L247.2,913.02 L248.7,913.37 L250.2,913.71 L251.7,914.05 L253.2,914.39 L254.7,914.72 L256.2,915.06 L257.7,915.38 L259.2,915.71 L260.7,916.03 L262.2,916.35 L263.7,916.67 L264.5,916.84" stroke="#10b810" stroke-width="1.95" fill="none" stroke-linejoin="round" clip-path="url(#c02)"/>
<path d="M82.2,826.86 L83.7,828.24 L85.2,829.72 L86.7,831.3 L88.2,832.96 L89.7,834.7 L91.2,836.5 L92.7,838.34 L94.2,840.23 L95.7,842.15 L97.2,844.08 L98.7,846.03 L100.2,847.99 L101.7,849.94 L103.2,851.88 L104.7,853.82 L106.2,855.73 L107.7,857.62 L109.2,859.48 L110.7,861.31 L112.2,863.11 L113.7,864.88 L115.2,866.6 L116.7,868.3 L118.2,869.95 L119.7,871.56 L121.2,873.14 L122.7,874.67 L124.2,876.16 L125.7,877.62 L127.2,879.03 L128.7,880.41 L130.2,881.74 L131.7,883.04 L133.2,884.3 L134.7,885.53 L136.2,886.72 L137.7,887.87 L139.2,889 L140.7,890.08 L142.2,891.14 L143.7,892.17 L145.2,893.16 L146.7,894.13 L148.2,895.06 L149.7,895.97 L151.2,896.86 L152.7,897.71 L154.2,898.55 L155.7,899.35 L157.2,900.14 L158.7,900.9 L160.2,901.64 L161.7,902.36 L163.2,903.06 L164.7,903.74 L166.2,904.4 L167.7,905.04 L169.2,905.66 L170.7,906.27 L172.2,906.86 L173.7,907.43 L175.2,907.99 L176.7,908.54 L178.2,909.06 L179.7,909.58 L181.2,910.08 L182.7,910.57 L184.2,911.04 L185.7,911.51 L187.2,911.96 L188.7,912.4 L190.2,912.83 L191.7,913.25 L193.2,913.65 L194.7,914.05 L196.2,914.44 L197.7,914.82 L199.2,915.19 L200.7,915.55 L202.2,915.9 L203.7,916.24 L205.2,916.58 L206.7,916.91 L208.2,917.23 L209.7,917.54 L211.2,917.84 L212.7,918.14 L214.2,918.43 L215.7,918.72 L217.2,919 L218.7,919.27 L220.2,919.54 L221.7,919.8 L223.2,920.06 L224.7,920.31 L226.2,920.55 L227.7,920.79 L229.2,921.03 L230.7,921.25 L232.2,921.48 L233.7,921.7 L235.2,921.92 L236.7,922.13 L238.2,922.34 L239.7,922.54 L241.2,922.74 L242.7,922.93 L244.2,923.13 L245.7,923.31 L247.2,923.5 L248.7,923.68 L250.2,923.86 L251.7,924.03 L253.2,924.2 L254.7,924.37 L256.2,924.53 L257.7,924.69 L259.2,924.85 L260.7,925.01 L262.2,925.16 L263.7,925.31 L264.5,925.39" stroke="#1010e0" stroke-width="1.95" fill="none" stroke-linejoin="round" clip-path="url(#c02)"/>
<path d="M82.2,748.84 L83.7,750.29 L85.2,751.87 L86.7,753.56 L88.2,755.37 L89.7,757.27 L91.2,759.27 L92.7,761.34 L94.2,763.49 L95.7,765.7 L97.2,767.97 L98.7,770.28 L100.2,772.63 L101.7,775.01 L103.2,777.41 L104.7,779.83 L106.2,782.27 L107.7,784.7 L109.2,787.14 L110.7,789.58 L112.2,792 L113.7,794.42 L115.2,796.81 L116.7,799.19 L118.2,801.55 L119.7,803.88 L121.2,806.18 L122.7,808.46 L124.2,810.71 L125.7,812.93 L127.2,815.11 L128.7,817.27 L130.2,819.39 L131.7,821.47 L133.2,823.52 L134.7,825.54 L136.2,827.52 L137.7,829.46 L139.2,831.38 L140.7,833.25 L142.2,835.09 L143.7,836.9 L145.2,838.68 L146.7,840.42 L148.2,842.13 L149.7,843.8 L151.2,845.44 L152.7,847.06 L154.2,848.64 L155.7,850.19 L157.2,851.71 L158.7,853.2 L160.2,854.66 L161.7,856.09 L163.2,857.5 L164.7,858.88 L166.2,860.23 L167.7,861.56 L169.2,862.86 L170.7,864.13 L172.2,865.39 L173.7,866.61 L175.2,867.82 L176.7,869 L178.2,870.16 L179.7,871.3 L181.2,872.42 L182.7,873.51 L184.2,874.59 L185.7,875.65 L187.2,876.68 L188.7,877.7 L190.2,878.7 L191.7,879.68 L193.2,880.65 L194.7,881.6 L196.2,882.53 L197.7,883.44 L199.2,884.34 L200.7,885.22 L202.2,886.09 L203.7,886.94 L205.2,887.78 L206.7,888.61 L208.2,889.42 L209.7,890.21 L211.2,891 L212.7,891.77 L214.2,892.53 L215.7,893.27 L217.2,894.01 L218.7,894.73 L220.2,895.44 L221.7,896.14 L223.2,896.83 L224.7,897.5 L226.2,898.17 L227.7,898.83 L229.2,899.47 L230.7,900.11 L232.2,900.74 L233.7,901.35 L235.2,901.96 L236.7,902.56 L238.2,903.15 L239.7,903.73 L241.2,904.3 L242.7,904.87 L244.2,905.42 L245.7,905.97 L247.2,906.51 L248.7,907.05 L250.2,907.57 L251.7,908.09 L253.2,908.6 L254.7,909.1 L256.2,909.6 L257.7,910.09 L259.2,910.57 L260.7,911.05 L262.2,911.52 L263.7,911.98 L264.5,912.23" stroke="#f01010" stroke-width="1.95" fill="none" stroke-linejoin="round" clip-path="url(#c02)"/>
<path d="M277.74,772.8V795.5" stroke="#f01010" stroke-opacity="0.45" stroke-width="1.1" fill="none"/>
<path d="M273.94,772.8h7.6 M273.94,795.5h7.6" stroke="#f01010" stroke-opacity="0.7" stroke-width="1.1" fill="none"/>
<path d="M277.74,825V832.5" stroke="#1010e0" stroke-opacity="0.45" stroke-width="1.1" fill="none"/>
<path d="M273.94,825h7.6 M273.94,832.5h7.6" stroke="#1010e0" stroke-opacity="0.7" stroke-width="1.1" fill="none"/>
<path d="M277.74,882V889" stroke="#10b810" stroke-opacity="0.45" stroke-width="1.1" fill="none"/>
<path d="M273.94,882h7.6 M273.94,889h7.6" stroke="#10b810" stroke-opacity="0.7" stroke-width="1.1" fill="none"/>
<path d="M329.9,852.3V863.6" stroke="#f01010" stroke-opacity="0.45" stroke-width="1.1" fill="none"/>
<path d="M326.1,852.3h7.6 M326.1,863.6h7.6" stroke="#f01010" stroke-opacity="0.7" stroke-width="1.1" fill="none"/>
<path d="M329.9,880.2V890" stroke="#1010e0" stroke-opacity="0.45" stroke-width="1.1" fill="none"/>
<path d="M326.1,880.2h7.6 M326.1,890h7.6" stroke="#1010e0" stroke-opacity="0.7" stroke-width="1.1" fill="none"/>
<path d="M329.9,894.5V902" stroke="#10b810" stroke-opacity="0.45" stroke-width="1.1" fill="none"/>
<path d="M326.1,894.5h7.6 M326.1,902h7.6" stroke="#10b810" stroke-opacity="0.7" stroke-width="1.1" fill="none"/>
<path d="M382.06,895V902" stroke="#f01010" stroke-opacity="0.45" stroke-width="1.1" fill="none"/>
<path d="M378.26,895h7.6 M378.26,902h7.6" stroke="#f01010" stroke-opacity="0.7" stroke-width="1.1" fill="none"/>
<path d="M382.06,908V915" stroke="#10b810" stroke-opacity="0.45" stroke-width="1.1" fill="none"/>
<path d="M378.26,908h7.6 M378.26,915h7.6" stroke="#10b810" stroke-opacity="0.7" stroke-width="1.1" fill="none"/>
<path d="M382.06,915V922" stroke="#1010e0" stroke-opacity="0.45" stroke-width="1.1" fill="none"/>
<path d="M378.26,915h7.6 M378.26,922h7.6" stroke="#1010e0" stroke-opacity="0.7" stroke-width="1.1" fill="none"/>
<circle cx="277.74" cy="784.3" r="4.6" fill="url(#gr)"/>
<circle cx="277.74" cy="828.7" r="4.6" fill="url(#gb)"/>
<circle cx="277.74" cy="885.5" r="4.6" fill="url(#gg)"/>
<circle cx="329.9" cy="858" r="4.6" fill="url(#gr)"/>
<circle cx="329.9" cy="885.5" r="4.6" fill="url(#gb)"/>
<circle cx="329.9" cy="898.4" r="4.6" fill="url(#gg)"/>
<circle cx="382.06" cy="898.4" r="4.6" fill="url(#gr)"/>
<circle cx="382.06" cy="911.5" r="4.6" fill="url(#gg)"/>
<circle cx="382.06" cy="918.3" r="4.6" fill="url(#gb)"/>
<path d="M264.5,887.37 L266,887.44 L267.5,887.53 L269,887.62 L270.5,887.72 L272,887.83 L273.5,887.95 L275,888.08 L276.5,888.21 L278,888.35 L279.5,888.5 L281,888.66 L282.5,888.82 L284,888.99 L285.5,889.17 L287,889.36 L288.5,889.55 L290,889.75 L291.5,889.96 L293,890.17 L294.5,890.39 L296,890.62 L297.5,890.85 L299,891.09 L300.5,891.34 L302,891.59 L303.5,891.84 L305,892.11 L306.5,892.38 L308,892.65 L309.5,892.93 L311,893.21 L312.5,893.5 L314,893.79 L315.5,894.09 L317,894.39 L318.5,894.7 L320,895.01 L321.5,895.32 L323,895.64 L324.5,895.96 L326,896.28 L327.5,896.61 L329,896.94 L330.5,897.27 L332,897.6 L333.5,897.94 L335,898.28 L336.5,898.62 L338,898.97 L339.5,899.31 L341,899.66 L342.5,900.01 L344,900.36 L345.5,900.71 L347,901.06 L348.5,901.42 L350,901.77 L351.5,902.13 L353,902.48 L354.5,902.83 L356,903.19 L357.5,903.54 L359,903.9 L360.5,904.25 L362,904.6 L363.5,904.96 L365,905.31 L366.5,905.66 L368,906.01 L369.5,906.36 L371,906.71 L372.5,907.05 L374,907.4 L375.5,907.74 L377,908.08 L378.5,908.42 L380,908.76 L381.5,909.09 L383,909.43 L384.5,909.76 L386,910.08 L387.5,910.41 L389,910.73 L390.5,911.05 L392,911.37 L393.5,911.69 L395,912 L396.5,912.31 L398,912.62 L399.5,912.92 L401,913.22 L402.5,913.52 L404,913.81 L405.5,914.1 L407,914.39 L408.5,914.68 L410,914.96 L411.5,915.23 L413,915.51 L414.5,915.78 L416,916.05 L417.5,916.31 L419,916.57 L420.5,916.83 L422,917.08 L423.5,917.33 L425,917.58 L426.5,917.82 L428,918.06 L429.5,918.29 L431,918.53 L432.5,918.75 L434,918.98 L435.5,919.2 L437,919.42 L438.5,919.63 L440,919.84 L441.5,920.05 L443,920.25 L444.5,920.45 L446,920.64 L446.8,920.75" stroke="#10b810" stroke-width="1.95" fill="none" stroke-linejoin="round" clip-path="url(#c12)"/>
<path d="M264.5,810.6 L266,812.19 L267.5,813.91 L269,815.75 L270.5,817.7 L272,819.73 L273.5,821.85 L275,824.04 L276.5,826.28 L278,828.57 L279.5,830.89 L281,833.24 L282.5,835.6 L284,837.97 L285.5,840.34 L287,842.69 L288.5,845.03 L290,847.35 L291.5,849.64 L293,851.9 L294.5,854.13 L296,856.31 L297.5,858.46 L299,860.55 L300.5,862.6 L302,864.61 L303.5,866.56 L305,868.47 L306.5,870.32 L308,872.13 L309.5,873.88 L311,875.59 L312.5,877.24 L314,878.85 L315.5,880.41 L317,881.92 L318.5,883.38 L320,884.8 L321.5,886.17 L323,887.5 L324.5,888.79 L326,890.04 L327.5,891.24 L329,892.41 L330.5,893.54 L332,894.63 L333.5,895.69 L335,896.71 L336.5,897.7 L338,898.66 L339.5,899.58 L341,900.48 L342.5,901.35 L344,902.19 L345.5,903 L347,903.79 L348.5,904.55 L350,905.29 L351.5,906 L353,906.69 L354.5,907.36 L356,908.01 L357.5,908.64 L359,909.25 L360.5,909.84 L362,910.41 L363.5,910.97 L365,911.5 L366.5,912.03 L368,912.53 L369.5,913.02 L371,913.5 L372.5,913.96 L374,914.41 L375.5,914.85 L377,915.27 L378.5,915.68 L380,916.08 L381.5,916.47 L383,916.84 L384.5,917.21 L386,917.57 L387.5,917.91 L389,918.25 L390.5,918.58 L392,918.9 L393.5,919.21 L395,919.51 L396.5,919.8 L398,920.09 L399.5,920.37 L401,920.64 L402.5,920.9 L404,921.16 L405.5,921.41 L407,921.65 L408.5,921.89 L410,922.12 L411.5,922.35 L413,922.57 L414.5,922.79 L416,923 L417.5,923.2 L419,923.4 L420.5,923.59 L422,923.79 L423.5,923.97 L425,924.15 L426.5,924.33 L428,924.5 L429.5,924.67 L431,924.84 L432.5,925 L434,925.16 L435.5,925.31 L437,925.46 L438.5,925.61 L440,925.75 L441.5,925.89 L443,926.03 L444.5,926.17 L446,926.3 L446.8,926.37" stroke="#1010e0" stroke-width="1.95" fill="none" stroke-linejoin="round" clip-path="url(#c12)"/>
<path d="M264.5,763.77 L266,765.44 L267.5,767.25 L269,769.18 L270.5,771.23 L272,773.38 L273.5,775.63 L275,777.95 L276.5,780.34 L278,782.79 L279.5,785.29 L281,787.82 L282.5,790.38 L284,792.96 L285.5,795.55 L287,798.14 L288.5,800.73 L290,803.31 L291.5,805.88 L293,808.42 L294.5,810.95 L296,813.44 L297.5,815.91 L299,818.34 L300.5,820.73 L302,823.09 L303.5,825.41 L305,827.69 L306.5,829.93 L308,832.12 L309.5,834.27 L311,836.38 L312.5,838.45 L314,840.47 L315.5,842.45 L317,844.38 L318.5,846.27 L320,848.13 L321.5,849.94 L323,851.7 L324.5,853.43 L326,855.12 L327.5,856.77 L329,858.38 L330.5,859.96 L332,861.5 L333.5,863 L335,864.47 L336.5,865.9 L338,867.3 L339.5,868.67 L341,870.01 L342.5,871.31 L344,872.59 L345.5,873.84 L347,875.05 L348.5,876.25 L350,877.41 L351.5,878.55 L353,879.66 L354.5,880.75 L356,881.81 L357.5,882.85 L359,883.87 L360.5,884.86 L362,885.84 L363.5,886.79 L365,887.72 L366.5,888.63 L368,889.52 L369.5,890.4 L371,891.25 L372.5,892.09 L374,892.91 L375.5,893.72 L377,894.5 L378.5,895.27 L380,896.03 L381.5,896.77 L383,897.5 L384.5,898.21 L386,898.9 L387.5,899.59 L389,900.26 L390.5,900.92 L392,901.56 L393.5,902.2 L395,902.82 L396.5,903.43 L398,904.02 L399.5,904.61 L401,905.19 L402.5,905.75 L404,906.31 L405.5,906.85 L407,907.39 L408.5,907.92 L410,908.43 L411.5,908.94 L413,909.44 L414.5,909.93 L416,910.41 L417.5,910.89 L419,911.35 L420.5,911.81 L422,912.26 L423.5,912.71 L425,913.14 L426.5,913.57 L428,913.99 L429.5,914.41 L431,914.81 L432.5,915.22 L434,915.61 L435.5,916 L437,916.38 L438.5,916.76 L440,917.13 L441.5,917.5 L443,917.86 L444.5,918.21 L446,918.56 L446.8,918.74" stroke="#f01010" stroke-width="1.95" fill="none" stroke-linejoin="round" clip-path="url(#c12)"/>
<path d="M460.04,837.6V846.7" stroke="#f01010" stroke-opacity="0.45" stroke-width="1.1" fill="none"/>
<path d="M456.24,837.6h7.6 M456.24,846.7h7.6" stroke="#f01010" stroke-opacity="0.7" stroke-width="1.1" fill="none"/>
<path d="M460.04,885V892" stroke="#10b810" stroke-opacity="0.45" stroke-width="1.1" fill="none"/>
<path d="M456.24,885h7.6 M456.24,892h7.6" stroke="#10b810" stroke-opacity="0.7" stroke-width="1.1" fill="none"/>
<path d="M460.04,876V884" stroke="#1010e0" stroke-opacity="0.45" stroke-width="1.1" fill="none"/>
<path d="M456.24,876h7.6 M456.24,884h7.6" stroke="#1010e0" stroke-opacity="0.7" stroke-width="1.1" fill="none"/>
<path d="M512.2,852.4V863.4" stroke="#f01010" stroke-opacity="0.45" stroke-width="1.1" fill="none"/>
<path d="M508.4,852.4h7.6 M508.4,863.4h7.6" stroke="#f01010" stroke-opacity="0.7" stroke-width="1.1" fill="none"/>
<path d="M512.2,894V901.5" stroke="#10b810" stroke-opacity="0.45" stroke-width="1.1" fill="none"/>
<path d="M508.4,894h7.6 M508.4,901.5h7.6" stroke="#10b810" stroke-opacity="0.7" stroke-width="1.1" fill="none"/>
<path d="M512.2,883.3V891.5" stroke="#1010e0" stroke-opacity="0.45" stroke-width="1.1" fill="none"/>
<path d="M508.4,883.3h7.6 M508.4,891.5h7.6" stroke="#1010e0" stroke-opacity="0.7" stroke-width="1.1" fill="none"/>
<path d="M564.36,879.5V887" stroke="#f01010" stroke-opacity="0.45" stroke-width="1.1" fill="none"/>
<path d="M560.56,879.5h7.6 M560.56,887h7.6" stroke="#f01010" stroke-opacity="0.7" stroke-width="1.1" fill="none"/>
<path d="M564.36,903V910" stroke="#10b810" stroke-opacity="0.45" stroke-width="1.1" fill="none"/>
<path d="M560.56,903h7.6 M560.56,910h7.6" stroke="#10b810" stroke-opacity="0.7" stroke-width="1.1" fill="none"/>
<path d="M564.36,905.5V913" stroke="#1010e0" stroke-opacity="0.45" stroke-width="1.1" fill="none"/>
<path d="M560.56,905.5h7.6 M560.56,913h7.6" stroke="#1010e0" stroke-opacity="0.7" stroke-width="1.1" fill="none"/>
<circle cx="460.04" cy="842.2" r="4.6" fill="url(#gr)"/>
<circle cx="460.04" cy="888.4" r="4.6" fill="url(#gg)"/>
<circle cx="460.04" cy="879.9" r="4.6" fill="url(#gb)"/>
<circle cx="512.2" cy="858.2" r="4.6" fill="url(#gr)"/>
<circle cx="512.2" cy="897.7" r="4.6" fill="url(#gg)"/>
<circle cx="512.2" cy="887.4" r="4.6" fill="url(#gb)"/>
<circle cx="564.36" cy="883.2" r="4.6" fill="url(#gr)"/>
<circle cx="564.36" cy="906.5" r="4.6" fill="url(#gg)"/>
<circle cx="564.36" cy="909.3" r="4.6" fill="url(#gb)"/>
<path d="M446.8,886.66 L448.3,886.76 L449.8,886.86 L451.3,886.97 L452.8,887.09 L454.3,887.22 L455.8,887.36 L457.3,887.51 L458.8,887.67 L460.3,887.84 L461.8,888.01 L463.3,888.19 L464.8,888.38 L466.3,888.58 L467.8,888.79 L469.3,889 L470.8,889.22 L472.3,889.45 L473.8,889.68 L475.3,889.92 L476.8,890.17 L478.3,890.42 L479.8,890.68 L481.3,890.94 L482.8,891.21 L484.3,891.48 L485.8,891.76 L487.3,892.04 L488.8,892.33 L490.3,892.62 L491.8,892.91 L493.3,893.21 L494.8,893.51 L496.3,893.82 L497.8,894.12 L499.3,894.43 L500.8,894.74 L502.3,895.06 L503.8,895.37 L505.3,895.69 L506.8,896.01 L508.3,896.33 L509.8,896.65 L511.3,896.98 L512.8,897.3 L514.3,897.63 L515.8,897.95 L517.3,898.28 L518.8,898.61 L520.3,898.93 L521.8,899.26 L523.3,899.59 L524.8,899.92 L526.3,900.24 L527.8,900.57 L529.3,900.9 L530.8,901.22 L532.3,901.55 L533.8,901.87 L535.3,902.2 L536.8,902.52 L538.3,902.85 L539.8,903.17 L541.3,903.49 L542.8,903.81 L544.3,904.12 L545.8,904.44 L547.3,904.76 L548.8,905.07 L550.3,905.39 L551.8,905.7 L553.3,906.01 L554.8,906.32 L556.3,906.62 L557.8,906.93 L559.3,907.23 L560.8,907.54 L562.3,907.84 L563.8,908.13 L565.3,908.43 L566.8,908.73 L568.3,909.02 L569.8,909.31 L571.3,909.6 L572.8,909.89 L574.3,910.18 L575.8,910.46 L577.3,910.75 L578.8,911.03 L580.3,911.31 L581.8,911.59 L583.3,911.86 L584.8,912.13 L586.3,912.41 L587.8,912.68 L589.3,912.95 L590.8,913.21 L592.3,913.48 L593.8,913.74 L595.3,914 L596.8,914.26 L598.3,914.52 L599.8,914.77 L601.3,915.02 L602.8,915.28 L604.3,915.53 L605.8,915.77 L607.3,916.02 L608.8,916.27 L610.3,916.51 L611.8,916.75 L613.3,916.99 L614.8,917.23 L616.3,917.46 L617.8,917.7 L619.3,917.93 L620.8,918.16 L622.3,918.39 L623.8,918.61 L625.3,918.84 L626.8,919.06 L628.3,919.28 L629.45,919.45" stroke="#10b810" stroke-width="1.95" fill="none" stroke-linejoin="round" clip-path="url(#c22)"/>
<path d="M446.8,877.16 L448.3,877.3 L449.8,877.46 L451.3,877.63 L452.8,877.82 L454.3,878.02 L455.8,878.23 L457.3,878.46 L458.8,878.71 L460.3,878.96 L461.8,879.23 L463.3,879.51 L464.8,879.8 L466.3,880.11 L467.8,880.42 L469.3,880.75 L470.8,881.09 L472.3,881.43 L473.8,881.79 L475.3,882.16 L476.8,882.53 L478.3,882.92 L479.8,883.31 L481.3,883.71 L482.8,884.12 L484.3,884.53 L485.8,884.96 L487.3,885.38 L488.8,885.82 L490.3,886.26 L491.8,886.7 L493.3,887.15 L494.8,887.6 L496.3,888.06 L497.8,888.52 L499.3,888.98 L500.8,889.45 L502.3,889.91 L503.8,890.38 L505.3,890.85 L506.8,891.33 L508.3,891.8 L509.8,892.28 L511.3,892.75 L512.8,893.23 L514.3,893.7 L515.8,894.18 L517.3,894.65 L518.8,895.12 L520.3,895.6 L521.8,896.07 L523.3,896.54 L524.8,897 L526.3,897.47 L527.8,897.93 L529.3,898.39 L530.8,898.85 L532.3,899.31 L533.8,899.76 L535.3,900.21 L536.8,900.65 L538.3,901.1 L539.8,901.54 L541.3,901.97 L542.8,902.41 L544.3,902.83 L545.8,903.26 L547.3,903.68 L548.8,904.1 L550.3,904.51 L551.8,904.92 L553.3,905.33 L554.8,905.73 L556.3,906.12 L557.8,906.51 L559.3,906.9 L560.8,907.29 L562.3,907.67 L563.8,908.04 L565.3,908.41 L566.8,908.78 L568.3,909.14 L569.8,909.5 L571.3,909.85 L572.8,910.2 L574.3,910.54 L575.8,910.88 L577.3,911.22 L578.8,911.55 L580.3,911.87 L581.8,912.19 L583.3,912.51 L584.8,912.83 L586.3,913.14 L587.8,913.44 L589.3,913.74 L590.8,914.04 L592.3,914.33 L593.8,914.62 L595.3,914.9 L596.8,915.18 L598.3,915.46 L599.8,915.73 L601.3,916 L602.8,916.26 L604.3,916.52 L605.8,916.78 L607.3,917.03 L608.8,917.28 L610.3,917.53 L611.8,917.77 L613.3,918.01 L614.8,918.24 L616.3,918.47 L617.8,918.7 L619.3,918.93 L620.8,919.15 L622.3,919.36 L623.8,919.58 L625.3,919.79 L626.8,920 L628.3,920.2 L629.45,920.36" stroke="#1010e0" stroke-width="1.95" fill="none" stroke-linejoin="round" clip-path="url(#c22)"/>
<path d="M446.8,840.03 L448.3,840.17 L449.8,840.33 L451.3,840.51 L452.8,840.7 L454.3,840.9 L455.8,841.12 L457.3,841.36 L458.8,841.61 L460.3,841.87 L461.8,842.15 L463.3,842.44 L464.8,842.75 L466.3,843.07 L467.8,843.41 L469.3,843.76 L470.8,844.12 L472.3,844.5 L473.8,844.89 L475.3,845.29 L476.8,845.71 L478.3,846.13 L479.8,846.57 L481.3,847.03 L482.8,847.49 L484.3,847.97 L485.8,848.46 L487.3,848.95 L488.8,849.46 L490.3,849.98 L491.8,850.51 L493.3,851.06 L494.8,851.61 L496.3,852.17 L497.8,852.74 L499.3,853.31 L500.8,853.9 L502.3,854.5 L503.8,855.1 L505.3,855.71 L506.8,856.33 L508.3,856.96 L509.8,857.59 L511.3,858.23 L512.8,858.88 L514.3,859.53 L515.8,860.19 L517.3,860.86 L518.8,861.53 L520.3,862.2 L521.8,862.88 L523.3,863.56 L524.8,864.25 L526.3,864.94 L527.8,865.64 L529.3,866.34 L530.8,867.04 L532.3,867.74 L533.8,868.45 L535.3,869.16 L536.8,869.87 L538.3,870.58 L539.8,871.3 L541.3,872.01 L542.8,872.73 L544.3,873.44 L545.8,874.16 L547.3,874.88 L548.8,875.59 L550.3,876.31 L551.8,877.02 L553.3,877.74 L554.8,878.45 L556.3,879.16 L557.8,879.87 L559.3,880.58 L560.8,881.28 L562.3,881.99 L563.8,882.69 L565.3,883.39 L566.8,884.08 L568.3,884.77 L569.8,885.46 L571.3,886.15 L572.8,886.83 L574.3,887.51 L575.8,888.18 L577.3,888.85 L578.8,889.52 L580.3,890.18 L581.8,890.83 L583.3,891.49 L584.8,892.13 L586.3,892.78 L587.8,893.41 L589.3,894.04 L590.8,894.67 L592.3,895.29 L593.8,895.91 L595.3,896.52 L596.8,897.12 L598.3,897.72 L599.8,898.31 L601.3,898.89 L602.8,899.47 L604.3,900.05 L605.8,900.61 L607.3,901.18 L608.8,901.73 L610.3,902.28 L611.8,902.82 L613.3,903.36 L614.8,903.88 L616.3,904.41 L617.8,904.92 L619.3,905.43 L620.8,905.93 L622.3,906.43 L623.8,906.92 L625.3,907.4 L626.8,907.87 L628.3,908.34 L629.45,908.7" stroke="#f01010" stroke-width="1.95" fill="none" stroke-linejoin="round" clip-path="url(#c22)"/>
<rect x="82.2" y="348.6" width="182.3" height="198.3" fill="none" stroke="#000" stroke-width="1.6"/>
<rect x="82.2" y="546.9" width="182.3" height="198.45" fill="none" stroke="#000" stroke-width="1.6"/>
<rect x="82.2" y="745.35" width="182.3" height="198.35" fill="none" stroke="#000" stroke-width="1.6"/>
<rect x="264.5" y="348.6" width="182.3" height="198.3" fill="none" stroke="#000" stroke-width="1.6"/>
<rect x="264.5" y="546.9" width="182.3" height="198.45" fill="none" stroke="#000" stroke-width="1.6"/>
<rect x="264.5" y="745.35" width="182.3" height="198.35" fill="none" stroke="#000" stroke-width="1.6"/>
<rect x="446.8" y="348.6" width="182.65" height="198.3" fill="none" stroke="#000" stroke-width="1.6"/>
<rect x="446.8" y="546.9" width="182.65" height="198.45" fill="none" stroke="#000" stroke-width="1.6"/>
<rect x="446.8" y="745.35" width="182.65" height="198.35" fill="none" stroke="#000" stroke-width="1.6"/>
<text x="89.45" y="377.5" font-size="25.6" text-anchor="start" fill="#000" stroke="#000">(c)</text>
<text x="148.08" y="375.6" font-size="22.3" text-anchor="start" fill="#000" stroke="#000">3meV</text>
<text x="148.07" y="403.7" font-size="22.3" text-anchor="start" fill="#1a1ad0" stroke="#1a1ad0">p = 0.00(11)</text>
<text x="270.85" y="377.5" font-size="25.6" text-anchor="start" fill="#000" stroke="#000">(f)</text>
<text x="336.28" y="375.6" font-size="22.3" text-anchor="start" fill="#000" stroke="#000">3meV</text>
<text x="337.07" y="403.7" font-size="22.3" text-anchor="start" fill="#1a1ad0" stroke="#1a1ad0">p = 0.0</text>
<text x="454.45" y="377.5" font-size="25.6" text-anchor="start" fill="#000" stroke="#000">(i)</text>
<text x="518.1" y="375.6" font-size="22.3" text-anchor="start" fill="#000" stroke="#000">2.5meV</text>
<text x="518.77" y="403.7" font-size="22.3" text-anchor="start" fill="#1a1ad0" stroke="#1a1ad0">p = 0.49(7)</text>
<text x="103.85" y="576.2" font-size="25.6" text-anchor="start" fill="#000" stroke="#000">(d)</text>
<text x="147.76" y="574.4" font-size="22.3" text-anchor="start" fill="#000" stroke="#000">5meV</text>
<text x="148.77" y="602" font-size="22.3" text-anchor="start" fill="#1a1ad0" stroke="#1a1ad0">p = 0.10(3)</text>
<text x="270.95" y="576.2" font-size="25.6" text-anchor="start" fill="#000" stroke="#000">(g)</text>
<text x="338.56" y="574.4" font-size="22.3" text-anchor="start" fill="#000" stroke="#000">5meV</text>
<text x="339.57" y="602" font-size="22.3" text-anchor="start" fill="#1a1ad0" stroke="#1a1ad0">p = 0.00(6)</text>
<text x="454.95" y="576.2" font-size="25.6" text-anchor="start" fill="#000" stroke="#000">(j)</text>
<text x="518.56" y="574.4" font-size="22.3" text-anchor="start" fill="#000" stroke="#000">5meV</text>
<text x="518.77" y="602" font-size="22.3" text-anchor="start" fill="#1a1ad0" stroke="#1a1ad0">p = 0.48(3)</text>
<text x="105.65" y="775.1" font-size="25.6" text-anchor="start" fill="#000" stroke="#000">(e)</text>
<text x="147.65" y="772.4" font-size="22.3" text-anchor="start" fill="#000" stroke="#000">7.5meV</text>
<text x="148.77" y="800" font-size="22.3" text-anchor="start" fill="#1a1ad0" stroke="#1a1ad0">p = 0.11(6)</text>
<text x="294.55" y="775.1" font-size="25.6" text-anchor="start" fill="#000" stroke="#000">(h)</text>
<text x="337.85" y="772.4" font-size="22.3" text-anchor="start" fill="#000" stroke="#000">7.5meV</text>
<text x="338.97" y="800" font-size="22.3" text-anchor="start" fill="#1a1ad0" stroke="#1a1ad0">p = 0.06(4)</text>
<text x="454.95" y="775.1" font-size="25.6" text-anchor="start" fill="#000" stroke="#000">(k)</text>
<text x="518.45" y="772.4" font-size="22.3" text-anchor="start" fill="#000" stroke="#000">7.5meV</text>
<text x="518.77" y="800" font-size="22.3" text-anchor="start" fill="#1a1ad0" stroke="#1a1ad0">p = 0.45(4)</text>
<text x="74.8" y="539.4" font-size="25.8" text-anchor="end" fill="#000" stroke="#000">0</text>
<text x="74.8" y="482.5" font-size="25.8" text-anchor="end" fill="#000" stroke="#000">50</text>
<text x="74.8" y="425.6" font-size="25.8" text-anchor="end" fill="#000" stroke="#000">100</text>
<text x="74.8" y="368.7" font-size="25.8" text-anchor="end" fill="#000" stroke="#000">150</text>
<text x="74.8" y="738.9" font-size="25.8" text-anchor="end" fill="#000" stroke="#000">0</text>
<text x="74.8" y="686.1" font-size="25.8" text-anchor="end" fill="#000" stroke="#000">100</text>
<text x="74.8" y="633.3" font-size="25.8" text-anchor="end" fill="#000" stroke="#000">200</text>
<text x="74.8" y="580.5" font-size="25.8" text-anchor="end" fill="#000" stroke="#000">300</text>
<text x="74.8" y="937.25" font-size="25.8" text-anchor="end" fill="#000" stroke="#000">0</text>
<text x="74.8" y="884.35" font-size="25.8" text-anchor="end" fill="#000" stroke="#000">100</text>
<text x="74.8" y="831.45" font-size="25.8" text-anchor="end" fill="#000" stroke="#000">200</text>
<text x="74.8" y="778.55" font-size="25.8" text-anchor="end" fill="#000" stroke="#000">300</text>
<text x="95.44" y="971.4" font-size="25.8" text-anchor="middle" fill="#000" stroke="#000">1</text>
<text x="147.6" y="971.4" font-size="25.8" text-anchor="middle" fill="#000" stroke="#000">3</text>
<text x="199.76" y="971.4" font-size="25.8" text-anchor="middle" fill="#000" stroke="#000">5</text>
<text x="251.92" y="971.4" font-size="25.8" text-anchor="middle" fill="#000" stroke="#000">7</text>
<text x="277.74" y="971.4" font-size="25.8" text-anchor="middle" fill="#000" stroke="#000">1</text>
<text x="329.9" y="971.4" font-size="25.8" text-anchor="middle" fill="#000" stroke="#000">3</text>
<text x="382.06" y="971.4" font-size="25.8" text-anchor="middle" fill="#000" stroke="#000">5</text>
<text x="434.22" y="971.4" font-size="25.8" text-anchor="middle" fill="#000" stroke="#000">7</text>
<text x="460.04" y="971.4" font-size="25.8" text-anchor="middle" fill="#000" stroke="#000">1</text>
<text x="512.2" y="971.4" font-size="25.8" text-anchor="middle" fill="#000" stroke="#000">3</text>
<text x="564.36" y="971.4" font-size="25.8" text-anchor="middle" fill="#000" stroke="#000">5</text>
<text x="616.52" y="971.4" font-size="25.8" text-anchor="middle" fill="#000" stroke="#000">7</text>
<text x="279.05" y="1008.3" font-size="25.66" stroke="#000">(0.5,0.5,<tspan font-style="italic">l</tspan>) (rlu)</text>
<text transform="translate(19.25,634.25) rotate(-90) scale(1,0.94)" font-size="26.5" text-anchor="middle" stroke="#000">χ" (arb. units)</text>
<text x="300.64" y="298.6" font-size="25.5" text-anchor="start" fill="#000" stroke="#000">x = 0.045</text>
<text x="114.7" y="332.4" font-size="25.5" text-anchor="start" fill="#000" stroke="#000">1.5K &lt; T</text>
<text x="207.54" y="342.7" font-size="16.5" text-anchor="start" fill="#000" stroke="#000">C</text>
<text x="273.89" y="332.6" font-size="25.5" text-anchor="start" fill="#000" stroke="#000">T</text>
<text x="288.94" y="342.7" font-size="16.5" text-anchor="start" fill="#000" stroke="#000">C</text>
<text x="305.83" y="332.6" font-size="25.5" text-anchor="start" fill="#000" stroke="#000">&lt; 15K &lt; T</text>
<text x="414" y="342.7" font-size="16.5" text-anchor="start" fill="#000" stroke="#000">N</text>
<text x="470.89" y="332.6" font-size="25.5" text-anchor="start" fill="#000" stroke="#000">T</text>
<text x="486.11" y="342.7" font-size="16.5" text-anchor="start" fill="#000" stroke="#000">N</text>
<text x="503.12" y="332.6" font-size="25.5" text-anchor="start" fill="#000" stroke="#000">&lt; 58K &lt; T</text>
<text x="611.43" y="342.7" font-size="16.5" text-anchor="start" fill="#000" stroke="#000">S</text>
</svg></body></html>
